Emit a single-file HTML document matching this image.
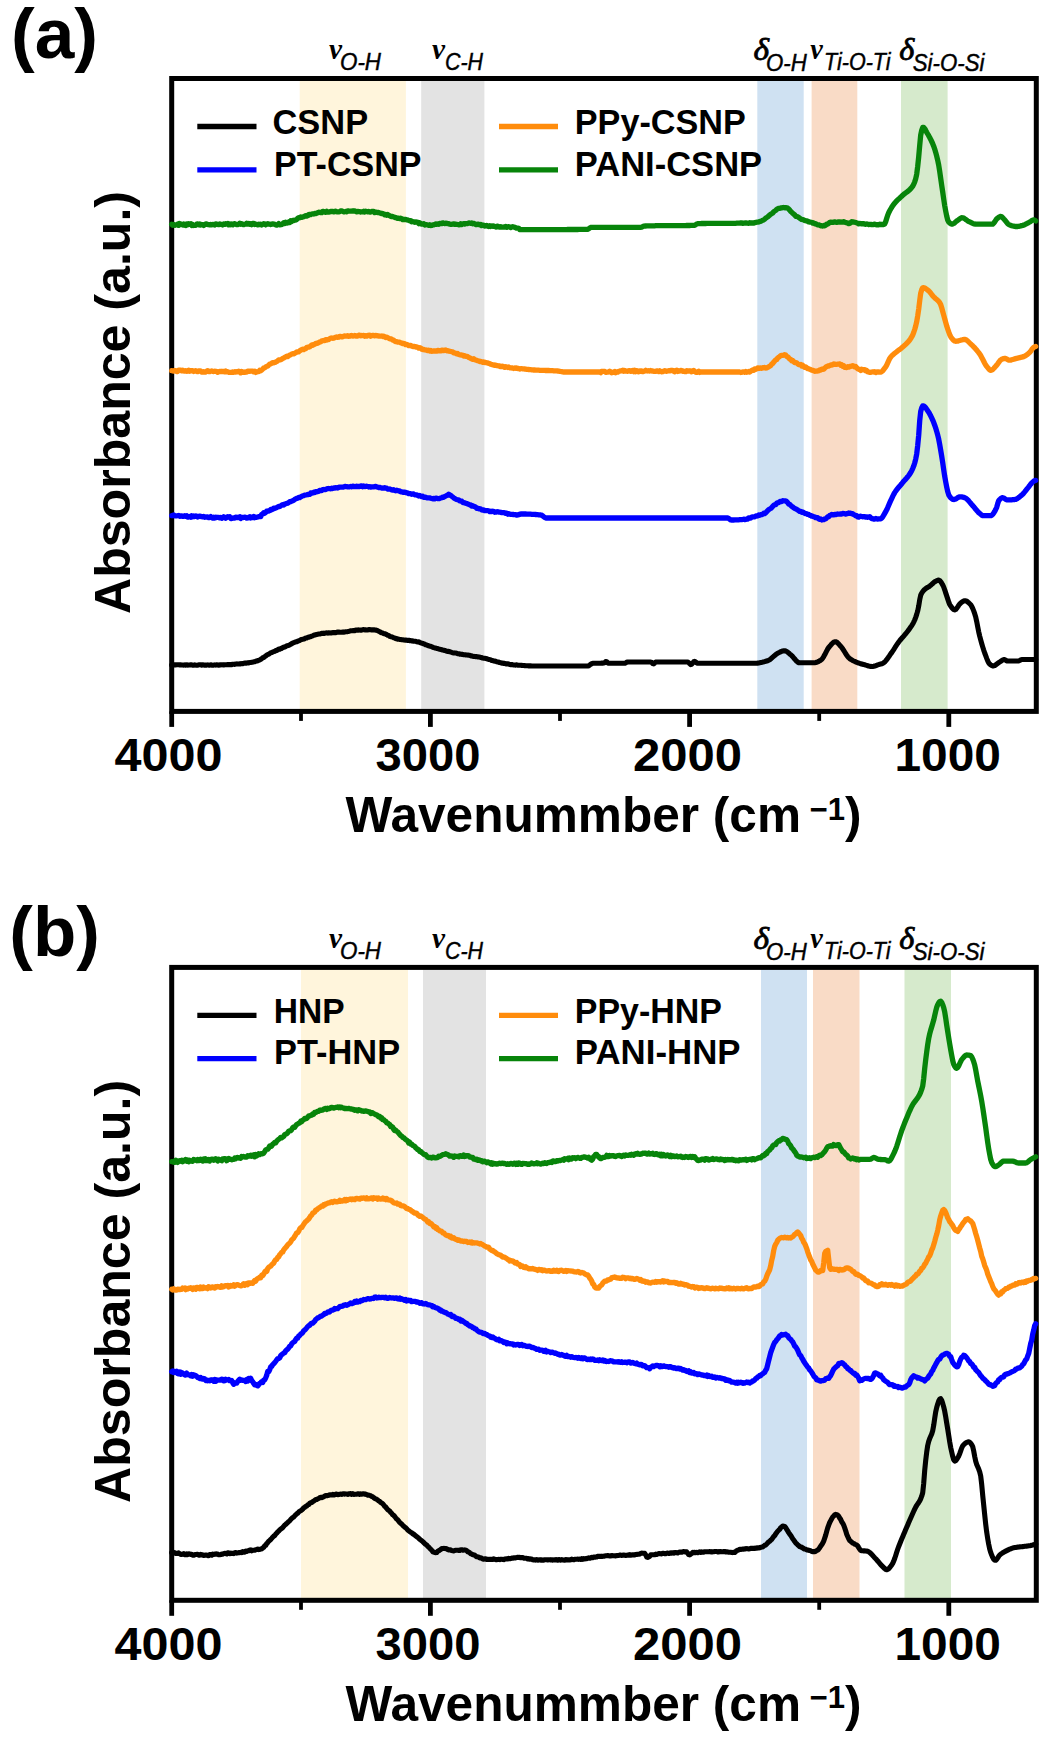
<!DOCTYPE html>
<html><head><meta charset="utf-8"><title>FTIR</title>
<style>
html,body{margin:0;padding:0;background:#fff;}
svg{display:block;font-family:"Liberation Sans",sans-serif;}
</style></head><body>
<svg width="1053" height="1740" viewBox="0 0 1053 1740">
<rect width="1053" height="1740" fill="#fff"/>
<g transform="translate(0,0)">
<rect x="299.7" y="78.5" width="106.2" height="632.9" fill="#FFF5DC"/>
<rect x="421.2" y="78.5" width="63.2" height="632.9" fill="#E3E3E3"/>
<rect x="757.3" y="78.5" width="46.4" height="632.9" fill="#CFE1F2"/>
<rect x="811.6" y="78.5" width="45.7" height="632.9" fill="#F9DBC6"/>
<rect x="901" y="78.5" width="46.6" height="632.9" fill="#D6EACC"/>
<rect x="171.7" y="78.5" width="864.6" height="632.9" fill="none" stroke="#000" stroke-width="5"/>
<polyline points="171.7,665.0 172.7,665.0 173.7,665.1 174.7,664.8 175.7,664.9 176.7,664.8 177.7,664.8 178.7,664.8 179.7,664.9 180.7,664.9 181.7,665.0 182.7,665.0 183.7,665.1 184.7,664.9 185.7,665.2 186.7,664.8 187.7,665.1 188.7,665.0 189.7,665.0 190.7,664.8 191.7,664.8 192.7,665.2 193.7,665.2 194.7,664.9 195.7,665.1 196.7,665.2 197.7,665.2 198.7,664.8 199.7,664.8 200.7,664.8 201.7,665.2 202.7,664.8 203.7,665.0 204.7,665.2 205.7,665.0 206.7,665.1 207.7,664.9 208.7,665.1 209.7,665.2 210.7,664.8 211.7,665.1 212.7,665.2 213.7,665.1 214.7,664.9 215.7,665.1 216.7,664.8 217.7,665.0 218.7,665.2 219.7,664.9 220.7,664.9 221.7,664.8 222.7,664.7 223.7,665.0 224.7,664.8 225.7,664.8 226.7,664.8 227.7,664.6 228.7,664.8 229.7,664.5 230.7,664.6 231.7,664.6 232.7,664.2 233.7,664.3 234.7,664.4 235.7,664.1 236.7,663.9 237.7,664.0 238.7,664.0 239.7,663.8 240.7,663.9 241.7,663.6 242.7,663.7 243.7,663.2 244.7,663.1 245.7,663.3 246.7,662.9 247.7,662.7 248.7,662.9 249.7,662.5 250.7,662.5 251.7,662.3 252.7,662.2 253.7,661.8 254.7,661.7 255.7,661.2 256.7,660.9 257.7,660.9 258.7,660.2 259.7,660.0 260.7,659.3 261.7,658.7 262.7,657.8 263.7,657.5 264.7,656.6 265.7,656.0 266.7,655.2 267.7,654.5 268.7,654.3 269.7,653.5 270.7,652.8 271.7,652.6 272.7,652.0 273.7,651.6 274.7,651.3 275.7,650.6 276.7,650.4 277.7,649.9 278.7,649.1 279.7,649.2 280.7,648.6 281.7,648.4 282.7,647.5 283.7,647.1 284.7,647.1 285.7,646.5 286.7,645.8 287.7,645.7 288.7,645.3 289.7,644.9 290.7,644.3 291.7,643.6 292.7,643.1 293.7,642.7 294.7,642.2 295.7,641.9 296.7,641.8 297.7,641.2 298.7,640.8 299.7,640.5 300.7,639.8 301.7,639.5 302.7,639.3 303.7,639.1 304.7,638.6 305.7,638.0 306.7,638.0 307.7,637.4 308.7,637.3 309.7,636.7 310.7,636.6 311.7,636.2 312.7,635.8 313.7,635.3 314.7,635.0 315.7,634.7 316.7,634.4 317.7,634.2 318.7,634.0 319.7,634.0 320.7,633.7 321.7,633.3 322.7,633.2 323.7,633.5 324.7,633.2 325.7,633.0 326.7,632.9 327.7,633.1 328.7,632.7 329.7,632.9 330.7,633.0 331.7,632.9 332.7,632.5 333.7,632.6 334.7,632.6 335.7,632.7 336.7,632.3 337.7,632.1 338.7,632.1 339.7,632.3 340.7,632.3 341.7,632.2 342.7,632.0 343.7,632.2 344.7,631.9 345.7,631.7 346.7,631.7 347.7,631.6 348.7,631.4 349.7,631.1 350.7,630.8 351.7,630.8 352.7,630.8 353.7,630.5 354.7,630.6 355.7,630.1 356.7,630.1 357.7,630.3 358.7,629.9 359.7,630.1 360.7,630.0 361.7,630.1 362.7,629.8 363.7,629.6 364.7,629.9 365.7,629.9 366.7,630.0 367.7,630.0 368.7,629.5 369.7,629.6 370.7,629.7 371.7,629.9 372.7,629.9 373.7,629.7 374.7,630.0 375.7,630.1 376.7,630.3 377.7,630.7 378.7,631.2 379.7,631.7 380.7,632.4 381.7,632.8 382.7,633.0 383.7,633.7 384.7,633.7 385.7,634.1 386.7,634.6 387.7,635.2 388.7,635.4 389.7,636.3 390.7,636.7 391.7,636.7 392.7,637.2 393.7,637.7 394.7,637.9 395.7,638.6 396.7,638.6 397.7,639.1 398.7,639.1 399.7,639.4 400.7,639.6 401.7,639.8 402.7,639.7 403.7,639.9 404.7,640.1 405.7,640.0 406.7,640.2 407.7,640.4 408.7,640.2 409.7,640.6 410.7,640.6 411.7,641.0 412.7,640.9 413.7,641.3 414.7,641.3 415.7,641.3 416.7,641.8 417.7,642.0 418.7,641.9 419.7,642.4 420.7,642.8 421.7,643.3 422.7,643.2 423.7,644.0 424.7,644.1 425.7,644.8 426.7,645.0 427.7,645.5 428.7,645.8 429.7,646.2 430.7,646.3 431.7,646.8 432.7,647.3 433.7,647.6 434.7,647.9 435.7,648.1 436.7,648.5 437.7,648.5 438.7,649.0 439.7,649.2 440.7,649.4 441.7,649.7 442.7,650.0 443.7,650.2 444.7,650.6 445.7,650.8 446.7,651.3 447.7,651.4 448.7,651.4 449.7,651.8 450.7,652.0 451.7,652.4 452.7,652.7 453.7,652.9 454.7,653.0 455.7,653.0 456.7,653.2 457.7,653.7 458.7,653.7 459.7,654.1 460.7,654.1 461.7,654.4 462.7,654.4 463.7,654.7 464.7,654.8 465.7,654.9 466.7,655.0 467.7,655.0 468.7,655.3 469.7,655.3 470.7,655.9 471.7,655.7 472.7,656.2 473.7,656.4 474.7,656.5 475.7,656.6 476.7,656.5 477.7,656.9 478.7,657.0 479.7,657.1 480.7,657.5 481.7,657.6 482.7,658.1 483.7,658.3 484.7,658.2 485.7,658.4 486.7,658.7 487.7,659.1 488.7,659.5 489.7,659.5 490.7,659.9 491.7,660.5 492.7,660.5 493.7,661.0 494.7,661.1 495.7,661.3 496.7,661.8 497.7,662.0 498.7,662.1 499.7,662.6 500.7,662.8 501.7,663.1 502.7,663.0 503.7,663.5 504.7,663.4 505.7,663.7 506.7,664.0 507.7,663.8 508.7,664.0 509.7,664.5 510.7,664.6 511.7,664.5 512.7,664.8 513.7,665.0 514.7,665.0 515.7,665.1 516.7,664.8 517.7,665.2 518.7,665.3 519.7,665.3 520.7,665.3 521.7,665.4 522.7,665.5 523.7,665.5 524.7,665.6 525.7,665.7 526.7,665.7 527.7,665.8 528.7,665.9 529.7,665.9 530.7,665.9 531.7,666.0 532.7,666.0 533.7,666.0 534.7,666.0 535.7,666.0 536.7,666.0 537.7,666.0 538.7,666.0 539.7,666.0 540.7,666.0 541.7,666.0 542.7,666.0 543.7,666.0 544.7,666.0 545.7,666.0 546.7,666.0 547.7,666.0 548.7,666.0 549.7,666.0 550.7,666.0 551.7,666.0 552.7,666.0 553.7,666.0 554.7,666.0 555.7,666.0 556.7,666.0 557.7,666.0 558.7,666.0 559.7,666.0 560.7,666.0 561.7,666.0 562.7,666.0 563.7,666.0 564.7,666.0 565.7,666.0 566.7,666.0 567.7,666.0 568.7,666.0 569.7,666.0 570.7,666.0 571.7,666.0 572.7,666.0 573.7,666.0 574.7,666.0 575.7,666.0 576.7,666.0 577.7,666.0 578.7,666.0 579.7,666.0 580.7,666.0 581.7,666.0 582.7,666.0 583.7,666.0 584.7,666.0 585.7,666.0 586.7,666.0 587.7,666.0 588.7,665.7 589.7,665.1 590.7,664.3 591.7,663.7 592.7,663.3 593.7,663.3 594.7,663.2 595.7,663.2 596.7,663.2 597.7,663.2 598.7,663.2 599.7,663.2 600.7,663.2 601.7,663.1 602.7,663.1 603.7,663.0 604.7,662.8 605.7,661.5 606.7,661.7 607.7,662.9 608.7,663.3 609.7,663.3 610.7,663.3 611.7,663.3 612.7,663.3 613.7,663.3 614.7,663.3 615.7,663.3 616.7,663.3 617.7,663.3 618.7,663.3 619.7,663.3 620.7,663.3 621.7,663.3 622.7,663.3 623.7,663.3 624.7,663.3 625.7,662.9 626.7,662.3 627.7,662.0 628.7,662.0 629.7,662.0 630.7,662.0 631.7,662.0 632.7,662.0 633.7,662.0 634.7,662.0 635.7,662.0 636.7,662.0 637.7,662.0 638.7,662.0 639.7,662.0 640.7,662.0 641.7,662.0 642.7,662.0 643.7,662.0 644.7,662.0 645.7,662.0 646.7,662.0 647.7,662.0 648.7,662.0 649.7,662.0 650.7,662.0 651.7,662.4 652.7,663.6 653.7,663.9 654.7,663.0 655.7,662.1 656.7,662.0 657.7,662.0 658.7,662.0 659.7,662.0 660.7,662.0 661.7,662.0 662.7,662.0 663.7,662.0 664.7,662.0 665.7,662.0 666.7,662.0 667.7,662.0 668.7,662.0 669.7,662.0 670.7,662.0 671.7,662.0 672.7,662.0 673.7,662.0 674.7,662.0 675.7,662.0 676.7,662.0 677.7,662.0 678.7,662.0 679.7,662.0 680.7,662.0 681.7,662.0 682.7,662.0 683.7,662.0 684.7,662.0 685.7,662.0 686.7,662.0 687.7,662.0 688.7,662.6 689.7,663.7 690.7,664.6 691.7,664.3 692.7,663.0 693.7,661.7 694.7,661.4 695.7,662.0 696.7,662.9 697.7,663.3 698.7,663.3 699.7,663.3 700.7,663.3 701.7,663.3 702.7,663.3 703.7,663.3 704.7,663.3 705.7,663.3 706.7,663.3 707.7,663.3 708.7,663.3 709.7,663.3 710.7,663.3 711.7,663.3 712.7,663.3 713.7,663.3 714.7,663.3 715.7,663.3 716.7,663.3 717.7,663.3 718.7,663.3 719.7,663.3 720.7,663.3 721.7,663.3 722.7,663.3 723.7,663.3 724.7,663.3 725.7,663.3 726.7,663.3 727.7,663.3 728.7,663.3 729.7,663.3 730.7,663.3 731.7,663.3 732.7,663.3 733.7,663.3 734.7,663.3 735.7,663.3 736.7,663.3 737.7,663.3 738.7,663.3 739.7,663.3 740.7,663.3 741.7,663.3 742.7,663.3 743.7,663.3 744.7,663.3 745.7,663.3 746.7,663.3 747.7,663.3 748.7,663.3 749.7,663.3 750.7,663.3 751.7,663.3 752.7,663.3 753.7,663.3 754.7,663.3 755.7,663.3 756.7,663.2 757.7,663.1 758.7,663.0 759.7,662.8 760.7,662.6 761.7,662.4 762.7,662.1 763.7,661.9 764.7,661.6 765.7,661.3 766.7,661.0 767.7,660.7 768.7,660.2 769.7,659.7 770.7,658.9 771.7,658.1 772.7,657.2 773.7,656.3 774.7,655.5 775.7,654.6 776.7,653.9 777.7,653.3 778.7,652.8 779.7,652.3 780.7,651.7 781.7,651.3 782.7,650.9 783.7,650.7 784.7,650.7 785.7,651.0 786.7,651.5 787.7,652.2 788.7,653.0 789.7,653.9 790.7,654.7 791.7,655.6 792.7,656.6 793.7,657.8 794.7,659.0 795.7,660.2 796.7,661.3 797.7,662.1 798.7,662.6 799.7,662.7 800.7,662.7 801.7,662.7 802.7,662.7 803.7,662.7 804.7,662.7 805.7,662.7 806.7,662.7 807.7,662.7 808.7,662.7 809.7,662.7 810.7,662.7 811.7,662.7 812.7,662.7 813.7,662.7 814.7,662.7 815.7,662.5 816.7,662.2 817.7,661.9 818.7,661.4 819.7,660.8 820.7,660.2 821.7,659.5 822.7,658.2 823.7,656.6 824.7,654.8 825.7,652.8 826.7,650.9 827.7,649.0 828.7,647.5 829.7,646.3 830.7,645.2 831.7,644.0 832.7,643.0 833.7,642.2 834.7,641.8 835.7,641.7 836.7,642.1 837.7,642.9 838.7,644.0 839.7,645.1 840.7,646.3 841.7,647.4 842.7,648.8 843.7,650.4 844.7,652.0 845.7,653.6 846.7,655.2 847.7,656.6 848.7,657.7 849.7,658.6 850.7,659.3 851.7,659.9 852.7,660.5 853.7,661.0 854.7,661.4 855.7,661.9 856.7,662.3 857.7,662.7 858.7,663.0 859.7,663.4 860.7,663.7 861.7,664.0 862.7,664.3 863.7,664.6 864.7,664.8 865.7,665.1 866.7,665.4 867.7,665.7 868.7,666.0 869.7,666.2 870.7,666.4 871.7,666.5 872.7,666.5 873.7,666.3 874.7,666.0 875.7,665.7 876.7,665.3 877.7,664.9 878.7,664.6 879.7,664.3 880.7,664.1 881.7,663.8 882.7,663.4 883.7,662.8 884.7,662.0 885.7,660.9 886.7,659.7 887.7,658.3 888.7,656.8 889.7,655.4 890.7,653.9 891.7,652.6 892.7,651.1 893.7,649.6 894.7,648.0 895.7,646.4 896.7,644.9 897.7,643.4 898.7,642.0 899.7,640.7 900.7,639.5 901.7,638.3 902.7,637.2 903.7,636.1 904.7,634.9 905.7,633.8 906.7,632.5 907.7,631.2 908.7,629.9 909.7,628.5 910.7,627.1 911.7,625.6 912.7,624.0 913.7,622.1 914.7,620.0 915.7,617.4 916.7,614.4 917.7,610.9 918.7,606.1 919.7,599.8 920.7,595.2 921.7,593.1 922.7,591.6 923.7,590.4 924.7,589.4 925.7,588.6 926.7,587.9 927.7,587.4 928.7,586.8 929.7,586.1 930.7,585.3 931.7,584.4 932.7,583.5 933.7,582.6 934.7,581.8 935.7,581.2 936.7,580.7 937.7,580.3 938.7,580.1 939.7,580.5 940.7,581.6 941.7,583.2 942.7,584.9 943.7,587.0 944.7,589.8 945.7,592.9 946.7,595.8 947.7,598.9 948.7,602.0 949.7,604.5 950.7,606.1 951.7,607.5 952.7,608.7 953.7,609.6 954.7,609.9 955.7,609.5 956.7,608.4 957.7,606.9 958.7,605.3 959.7,604.0 960.7,603.1 961.7,602.3 962.7,601.5 963.7,601.0 964.7,600.7 965.7,600.8 966.7,601.2 967.7,601.9 968.7,602.7 969.7,603.7 970.7,604.7 971.7,606.3 972.7,608.4 973.7,610.9 974.7,613.7 975.7,617.0 976.7,621.6 977.7,626.8 978.7,631.8 979.7,636.1 980.7,639.9 981.7,643.5 982.7,646.9 983.7,650.1 984.7,653.0 985.7,655.7 986.7,658.4 987.7,660.9 988.7,662.9 989.7,664.1 990.7,664.9 991.7,665.5 992.7,665.9 993.7,665.9 994.7,665.6 995.7,664.9 996.7,664.1 997.7,663.4 998.7,662.7 999.7,662.0 1000.7,661.3 1001.7,660.6 1002.7,660.0 1003.7,659.6 1004.7,659.6 1005.7,660.2 1006.7,660.9 1007.7,661.0 1008.7,661.0 1009.7,661.0 1010.7,661.0 1011.7,661.0 1012.7,661.0 1013.7,661.0 1014.7,661.0 1015.7,661.0 1016.7,661.0 1017.7,661.0 1018.7,660.9 1019.7,660.5 1020.7,659.9 1021.7,659.5 1022.7,659.5 1023.7,659.5 1024.7,659.5 1025.7,659.5 1026.7,659.5 1027.7,659.5 1028.7,659.5 1029.7,659.5 1030.7,659.5 1031.7,659.5 1032.7,659.5 1033.7,659.5 1034.7,659.5 1035.7,659.5" fill="none" stroke="#000" stroke-width="5.1" stroke-linejoin="round" stroke-linecap="round"/>
<polyline points="171.7,515.7 172.7,515.6 173.7,514.9 174.7,515.9 175.7,515.8 176.7,515.8 177.7,515.7 178.7,515.5 179.7,516.3 180.7,515.8 181.7,515.8 182.7,516.4 183.7,516.3 184.7,515.7 185.7,516.4 186.7,515.8 187.7,517.0 188.7,517.1 189.7,516.5 190.7,517.2 191.7,515.9 192.7,516.7 193.7,515.9 194.7,516.6 195.7,516.0 196.7,516.1 197.7,517.0 198.7,516.4 199.7,516.2 200.7,516.4 201.7,516.7 202.7,516.9 203.7,516.5 204.7,517.3 205.7,517.0 206.7,517.1 207.7,516.9 208.7,517.7 209.7,517.3 210.7,516.6 211.7,517.6 212.7,518.1 213.7,517.3 214.7,518.0 215.7,517.1 216.7,517.5 217.7,517.3 218.7,517.3 219.7,517.9 220.7,517.5 221.7,518.3 222.7,517.6 223.7,516.8 224.7,517.3 225.7,518.2 226.7,517.4 227.7,516.7 228.7,517.2 229.7,516.8 230.7,518.5 231.7,518.5 232.7,518.2 233.7,517.8 234.7,518.1 235.7,517.1 236.7,517.3 237.7,517.7 238.7,517.4 239.7,516.8 240.7,518.5 241.7,517.5 242.7,517.6 243.7,517.3 244.7,517.2 245.7,517.4 246.7,518.2 247.7,518.0 248.7,517.3 249.7,516.7 250.7,518.0 251.7,517.1 252.7,517.6 253.7,516.6 254.7,517.7 255.7,517.2 256.7,517.3 257.7,517.0 258.7,516.6 259.7,516.5 260.7,516.6 261.7,514.4 262.7,514.0 263.7,512.8 264.7,513.3 265.7,512.5 266.7,511.2 267.7,511.0 268.7,511.0 269.7,510.6 270.7,509.5 271.7,509.8 272.7,509.2 273.7,508.2 274.7,508.5 275.7,508.0 276.7,507.6 277.7,507.0 278.7,506.3 279.7,506.6 280.7,505.9 281.7,505.2 282.7,504.7 283.7,505.0 284.7,504.1 285.7,503.8 286.7,503.4 287.7,503.2 288.7,502.6 289.7,501.7 290.7,501.6 291.7,501.1 292.7,500.7 293.7,500.3 294.7,499.4 295.7,498.9 296.7,498.4 297.7,498.1 298.7,497.4 299.7,497.6 300.7,496.8 301.7,496.3 302.7,495.8 303.7,495.7 304.7,495.2 305.7,495.0 306.7,494.8 307.7,494.5 308.7,494.5 309.7,494.3 310.7,493.0 311.7,492.9 312.7,493.0 313.7,492.2 314.7,492.6 315.7,491.6 316.7,491.9 317.7,491.5 318.7,491.4 319.7,490.4 320.7,490.3 321.7,490.6 322.7,489.7 323.7,489.5 324.7,489.6 325.7,489.6 326.7,488.9 327.7,488.7 328.7,488.5 329.7,488.7 330.7,488.8 331.7,488.1 332.7,488.6 333.7,488.0 334.7,488.1 335.7,487.6 336.7,487.8 337.7,488.0 338.7,487.4 339.7,487.1 340.7,487.2 341.7,487.1 342.7,487.1 343.7,487.0 344.7,486.5 345.7,486.5 346.7,486.7 347.7,486.9 348.7,486.9 349.7,486.8 350.7,486.5 351.7,486.9 352.7,486.2 353.7,486.4 354.7,486.6 355.7,486.7 356.7,486.2 357.7,486.7 358.7,486.3 359.7,486.6 360.7,485.9 361.7,485.9 362.7,486.8 363.7,486.0 364.7,486.6 365.7,486.3 366.7,486.2 367.7,486.5 368.7,487.0 369.7,486.7 370.7,487.1 371.7,486.9 372.7,486.8 373.7,486.8 374.7,486.6 375.7,486.4 376.7,486.9 377.7,487.1 378.7,487.5 379.7,487.4 380.7,487.7 381.7,488.0 382.7,488.1 383.7,488.2 384.7,487.7 385.7,488.1 386.7,488.2 387.7,489.1 388.7,489.2 389.7,489.0 390.7,489.4 391.7,489.9 392.7,490.1 393.7,489.7 394.7,490.5 395.7,490.8 396.7,490.2 397.7,490.5 398.7,491.0 399.7,491.0 400.7,491.9 401.7,491.9 402.7,492.1 403.7,492.4 404.7,492.2 405.7,492.3 406.7,492.9 407.7,492.9 408.7,493.7 409.7,493.6 410.7,493.6 411.7,494.3 412.7,494.0 413.7,494.0 414.7,494.8 415.7,494.8 416.7,494.8 417.7,495.4 418.7,496.0 419.7,495.5 420.7,496.3 421.7,496.6 422.7,496.2 423.7,497.3 424.7,497.2 425.7,497.1 426.7,497.8 427.7,497.8 428.7,497.8 429.7,497.9 430.7,498.2 431.7,498.5 432.7,498.8 433.7,498.3 434.7,498.9 435.7,498.2 436.7,498.2 437.7,498.6 438.7,498.6 439.7,498.5 440.7,498.0 441.7,497.7 442.7,497.1 443.7,497.3 444.7,496.5 445.7,496.1 446.7,495.5 447.7,495.2 448.7,494.2 449.7,494.9 450.7,495.4 451.7,496.2 452.7,497.0 453.7,497.8 454.7,498.5 455.7,499.1 456.7,499.5 457.7,499.8 458.7,499.8 459.7,500.8 460.7,501.0 461.7,501.2 462.7,502.4 463.7,502.7 464.7,502.9 465.7,503.2 466.7,503.6 467.7,503.8 468.7,504.4 469.7,504.8 470.7,504.8 471.7,506.1 472.7,505.7 473.7,506.4 474.7,506.6 475.7,507.1 476.7,508.3 477.7,508.1 478.7,508.8 479.7,508.6 480.7,509.0 481.7,510.0 482.7,510.2 483.7,509.9 484.7,510.7 485.7,510.6 486.7,510.7 487.7,510.7 488.7,510.8 489.7,511.6 490.7,511.5 491.7,511.5 492.7,511.1 493.7,511.5 494.7,512.3 495.7,512.0 496.7,512.0 497.7,511.7 498.7,512.1 499.7,512.2 500.7,512.3 501.7,512.6 502.7,512.6 503.7,512.6 504.7,512.8 505.7,513.4 506.7,513.2 507.7,514.2 508.7,513.7 509.7,514.2 510.7,514.3 511.7,514.3 512.7,514.5 513.7,514.5 514.7,514.7 515.7,514.6 516.7,515.2 517.7,515.0 518.7,514.4 519.7,514.6 520.7,514.0 521.7,514.0 522.7,514.0 523.7,514.0 524.7,514.0 525.7,514.0 526.7,514.1 527.7,514.1 528.7,514.1 529.7,514.2 530.7,514.2 531.7,514.3 532.7,514.3 533.7,514.4 534.7,514.4 535.7,514.5 536.7,514.6 537.7,514.7 538.7,514.8 539.7,514.9 540.7,515.0 541.7,515.2 542.7,515.9 543.7,516.7 544.7,517.5 545.7,518.0 546.7,518.0 547.7,518.0 548.7,518.0 549.7,518.0 550.7,518.0 551.7,518.0 552.7,518.0 553.7,518.0 554.7,518.0 555.7,518.0 556.7,518.0 557.7,518.0 558.7,518.0 559.7,518.0 560.7,518.0 561.7,518.0 562.7,518.0 563.7,518.0 564.7,518.0 565.7,518.0 566.7,518.0 567.7,518.0 568.7,518.0 569.7,518.0 570.7,518.0 571.7,518.0 572.7,518.0 573.7,518.0 574.7,518.0 575.7,518.0 576.7,518.0 577.7,518.0 578.7,518.0 579.7,518.0 580.7,518.0 581.7,518.0 582.7,518.0 583.7,518.0 584.7,518.0 585.7,518.0 586.7,518.0 587.7,518.0 588.7,518.0 589.7,518.0 590.7,518.0 591.7,518.0 592.7,518.0 593.7,518.0 594.7,518.0 595.7,518.0 596.7,518.0 597.7,518.0 598.7,518.0 599.7,518.0 600.7,518.0 601.7,518.0 602.7,518.0 603.7,518.0 604.7,518.0 605.7,518.0 606.7,518.0 607.7,518.0 608.7,518.0 609.7,518.0 610.7,518.0 611.7,518.0 612.7,518.0 613.7,518.0 614.7,518.0 615.7,518.0 616.7,518.0 617.7,518.0 618.7,518.0 619.7,518.0 620.7,518.0 621.7,518.0 622.7,518.0 623.7,518.0 624.7,518.0 625.7,518.0 626.7,518.0 627.7,518.0 628.7,518.0 629.7,518.0 630.7,518.0 631.7,518.0 632.7,518.0 633.7,518.0 634.7,518.0 635.7,518.0 636.7,518.0 637.7,518.0 638.7,518.0 639.7,518.0 640.7,518.0 641.7,518.0 642.7,518.0 643.7,518.0 644.7,518.0 645.7,518.0 646.7,518.0 647.7,518.0 648.7,518.0 649.7,518.0 650.7,518.0 651.7,518.0 652.7,518.0 653.7,518.0 654.7,518.0 655.7,518.0 656.7,518.0 657.7,518.0 658.7,518.0 659.7,518.0 660.7,518.0 661.7,518.0 662.7,518.0 663.7,518.0 664.7,518.0 665.7,518.0 666.7,518.0 667.7,518.0 668.7,518.0 669.7,518.0 670.7,518.0 671.7,518.0 672.7,518.0 673.7,518.0 674.7,518.0 675.7,518.0 676.7,518.0 677.7,518.0 678.7,518.0 679.7,518.0 680.7,518.0 681.7,518.0 682.7,518.0 683.7,518.0 684.7,518.0 685.7,518.0 686.7,518.0 687.7,518.0 688.7,518.0 689.7,518.0 690.7,518.0 691.7,518.0 692.7,518.0 693.7,518.0 694.7,518.0 695.7,518.0 696.7,518.0 697.7,518.0 698.7,518.0 699.7,518.0 700.7,518.0 701.7,518.0 702.7,518.0 703.7,518.0 704.7,518.0 705.7,518.0 706.7,518.0 707.7,518.0 708.7,518.0 709.7,518.0 710.7,518.0 711.7,518.0 712.7,518.0 713.7,518.0 714.7,518.0 715.7,518.0 716.7,518.0 717.7,518.0 718.7,518.0 719.7,518.0 720.7,518.0 721.7,518.0 722.7,518.0 723.7,518.0 724.7,518.0 725.7,518.0 726.7,518.0 727.7,518.0 728.7,518.4 729.7,519.3 730.7,519.9 731.7,520.0 732.7,520.0 733.7,520.0 734.7,519.9 735.7,519.9 736.7,519.9 737.7,519.8 738.7,519.8 739.7,519.7 740.7,519.6 741.7,519.7 742.7,519.5 743.7,519.2 744.7,519.6 745.7,519.3 746.7,519.1 747.7,519.0 748.7,517.8 749.7,518.0 750.7,518.1 751.7,517.1 752.7,516.9 753.7,516.9 754.7,516.8 755.7,516.1 756.7,515.8 757.7,516.0 758.7,515.0 759.7,515.4 760.7,514.7 761.7,514.6 762.7,514.3 763.7,513.2 764.7,513.6 765.7,512.9 766.7,511.7 767.7,510.7 768.7,509.7 769.7,509.0 770.7,508.5 771.7,507.6 772.7,506.3 773.7,505.3 774.7,504.7 775.7,504.6 776.7,503.2 777.7,502.8 778.7,502.7 779.7,501.7 780.7,501.3 781.7,501.5 782.7,500.7 783.7,500.8 784.7,500.8 785.7,500.8 786.7,501.6 787.7,502.6 788.7,504.2 789.7,504.4 790.7,505.4 791.7,506.3 792.7,506.8 793.7,507.8 794.7,508.4 795.7,508.9 796.7,509.3 797.7,510.0 798.7,510.8 799.7,511.4 800.7,511.5 801.7,512.3 802.7,511.9 803.7,512.5 804.7,513.5 805.7,513.5 806.7,513.8 807.7,514.4 808.7,514.5 809.7,515.4 810.7,515.3 811.7,516.1 812.7,516.2 813.7,516.8 814.7,516.8 815.7,517.7 816.7,517.8 817.7,517.7 818.7,518.9 819.7,519.4 820.7,519.0 821.7,520.0 822.7,519.7 823.7,519.7 824.7,518.8 825.7,518.8 826.7,517.8 827.7,516.9 828.7,516.6 829.7,515.5 830.7,515.1 831.7,514.4 832.7,514.8 833.7,514.9 834.7,514.4 835.7,514.6 836.7,514.4 837.7,514.0 838.7,514.2 839.7,514.1 840.7,513.9 841.7,514.1 842.7,513.4 843.7,513.6 844.7,513.6 845.7,514.1 846.7,513.7 847.7,513.6 848.7,513.0 849.7,513.3 850.7,513.2 851.7,513.8 852.7,513.7 853.7,514.6 854.7,515.0 855.7,515.9 856.7,515.6 857.7,516.9 858.7,517.1 859.7,516.3 860.7,516.2 861.7,516.5 862.7,516.8 863.7,516.7 864.7,516.6 865.7,517.2 866.7,516.9 867.7,517.3 868.7,517.0 869.7,516.7 870.7,517.7 871.7,518.6 872.7,518.7 873.7,519.1 874.7,519.0 875.7,518.5 876.7,518.9 877.7,519.0 878.7,518.9 879.7,518.9 880.7,518.8 881.7,518.1 882.7,516.8 883.7,515.2 884.7,513.4 885.7,511.6 886.7,509.8 887.7,507.6 888.7,505.2 889.7,502.9 890.7,500.7 891.7,498.6 892.7,496.4 893.7,494.4 894.7,492.6 895.7,491.1 896.7,489.7 897.7,488.5 898.7,487.3 899.7,486.1 900.7,485.0 901.7,483.8 902.7,482.5 903.7,481.3 904.7,480.2 905.7,479.1 906.7,478.0 907.7,476.8 908.7,475.5 909.7,474.1 910.7,472.5 911.7,470.7 912.7,468.6 913.7,466.1 914.7,463.0 915.7,459.1 916.7,453.9 917.7,445.6 918.7,435.3 919.7,420.8 920.7,411.5 921.7,407.9 922.7,405.9 923.7,405.9 924.7,406.6 925.7,407.8 926.7,409.2 927.7,410.7 928.7,412.2 929.7,413.9 930.7,415.8 931.7,417.9 932.7,420.1 933.7,422.6 934.7,425.2 935.7,428.1 936.7,431.4 937.7,435.0 938.7,439.2 939.7,444.4 940.7,450.2 941.7,456.2 942.7,462.6 943.7,469.6 944.7,476.3 945.7,481.9 946.7,486.9 947.7,491.5 948.7,494.8 949.7,496.5 950.7,497.7 951.7,498.6 952.7,499.3 953.7,499.5 954.7,499.4 955.7,499.0 956.7,498.4 957.7,497.7 958.7,497.2 959.7,496.8 960.7,496.8 961.7,496.9 962.7,497.1 963.7,497.3 964.7,497.7 965.7,498.1 966.7,498.8 967.7,499.8 968.7,500.9 969.7,502.1 970.7,503.3 971.7,504.5 972.7,505.6 973.7,506.7 974.7,508.0 975.7,509.2 976.7,510.4 977.7,511.5 978.7,512.6 979.7,513.4 980.7,514.3 981.7,515.1 982.7,515.6 983.7,515.7 984.7,515.7 985.7,515.7 986.7,515.7 987.7,515.7 988.7,515.7 989.7,515.7 990.7,515.7 991.7,515.3 992.7,514.4 993.7,513.0 994.7,511.4 995.7,509.5 996.7,507.3 997.7,503.7 998.7,500.7 999.7,499.5 1000.7,498.5 1001.7,497.9 1002.7,497.7 1003.7,498.0 1004.7,498.7 1005.7,499.4 1006.7,499.8 1007.7,499.9 1008.7,499.9 1009.7,499.9 1010.7,499.8 1011.7,499.8 1012.7,499.7 1013.7,499.6 1014.7,499.5 1015.7,499.3 1016.7,498.8 1017.7,498.3 1018.7,497.5 1019.7,496.8 1020.7,495.9 1021.7,495.1 1022.7,494.2 1023.7,493.1 1024.7,491.9 1025.7,490.6 1026.7,489.3 1027.7,488.1 1028.7,486.9 1029.7,485.5 1030.7,484.2 1031.7,483.0 1032.7,482.0 1033.7,481.2 1034.7,480.7 1035.7,480.4" fill="none" stroke="#0000FF" stroke-width="5.3" stroke-linejoin="round" stroke-linecap="round"/>
<polyline points="171.7,370.7 172.7,370.8 173.7,371.1 174.7,370.4 175.7,370.8 176.7,371.5 177.7,371.5 178.7,370.1 179.7,370.3 180.7,370.1 181.7,370.8 182.7,370.1 183.7,370.8 184.7,371.2 185.7,370.6 186.7,371.3 187.7,371.2 188.7,370.2 189.7,371.2 190.7,370.6 191.7,370.9 192.7,370.7 193.7,371.5 194.7,371.0 195.7,370.6 196.7,371.3 197.7,371.7 198.7,370.9 199.7,370.8 200.7,371.1 201.7,372.1 202.7,372.2 203.7,371.7 204.7,372.1 205.7,372.0 206.7,371.2 207.7,370.7 208.7,371.7 209.7,371.6 210.7,371.3 211.7,371.0 212.7,371.4 213.7,371.5 214.7,371.2 215.7,371.3 216.7,371.6 217.7,372.3 218.7,371.9 219.7,371.4 220.7,371.4 221.7,371.7 222.7,371.3 223.7,371.3 224.7,371.9 225.7,371.1 226.7,371.9 227.7,371.7 228.7,372.3 229.7,372.4 230.7,372.3 231.7,372.3 232.7,371.8 233.7,372.3 234.7,371.7 235.7,372.1 236.7,371.7 237.7,371.9 238.7,371.2 239.7,371.5 240.7,372.8 241.7,371.5 242.7,372.3 243.7,372.2 244.7,372.4 245.7,371.9 246.7,372.1 247.7,371.1 248.7,371.1 249.7,371.3 250.7,371.2 251.7,371.1 252.7,371.1 253.7,371.9 254.7,371.2 255.7,372.5 256.7,372.0 257.7,371.6 258.7,371.6 259.7,370.3 260.7,370.9 261.7,370.0 262.7,369.1 263.7,367.9 264.7,367.9 265.7,367.0 266.7,366.3 267.7,366.2 268.7,365.2 269.7,364.2 270.7,364.0 271.7,363.2 272.7,362.7 273.7,362.8 274.7,362.4 275.7,362.1 276.7,361.5 277.7,360.8 278.7,359.9 279.7,359.8 280.7,359.8 281.7,359.2 282.7,358.4 283.7,358.0 284.7,357.3 285.7,356.8 286.7,356.2 287.7,356.6 288.7,355.9 289.7,355.0 290.7,354.8 291.7,354.0 292.7,353.7 293.7,353.8 294.7,353.3 295.7,352.7 296.7,352.0 297.7,352.0 298.7,351.8 299.7,350.9 300.7,350.1 301.7,349.6 302.7,349.2 303.7,349.6 304.7,348.8 305.7,348.6 306.7,347.5 307.7,347.1 308.7,347.1 309.7,346.8 310.7,345.8 311.7,345.0 312.7,345.3 313.7,344.3 314.7,344.3 315.7,343.3 316.7,343.4 317.7,343.1 318.7,342.6 319.7,341.8 320.7,341.8 321.7,340.8 322.7,340.7 323.7,340.5 324.7,340.6 325.7,339.6 326.7,340.0 327.7,339.6 328.7,339.5 329.7,338.6 330.7,338.2 331.7,338.0 332.7,338.3 333.7,338.2 334.7,337.7 335.7,337.3 336.7,336.9 337.7,337.3 338.7,337.2 339.7,336.3 340.7,336.3 341.7,336.8 342.7,336.8 343.7,336.1 344.7,336.0 345.7,336.1 346.7,336.1 347.7,335.6 348.7,336.3 349.7,335.9 350.7,336.1 351.7,335.5 352.7,336.2 353.7,336.0 354.7,335.5 355.7,336.1 356.7,335.9 357.7,336.0 358.7,335.2 359.7,335.2 360.7,335.9 361.7,335.5 362.7,335.7 363.7,335.4 364.7,336.2 365.7,335.7 366.7,336.1 367.7,335.3 368.7,335.7 369.7,335.3 370.7,336.2 371.7,335.7 372.7,335.4 373.7,335.4 374.7,335.9 375.7,335.5 376.7,335.6 377.7,335.9 378.7,336.0 379.7,336.1 380.7,336.2 381.7,336.0 382.7,336.5 383.7,336.2 384.7,336.6 385.7,337.5 386.7,337.2 387.7,337.7 388.7,338.1 389.7,338.8 390.7,338.8 391.7,339.2 392.7,340.1 393.7,340.2 394.7,341.1 395.7,341.6 396.7,341.7 397.7,342.2 398.7,342.2 399.7,342.1 400.7,342.8 401.7,343.1 402.7,343.6 403.7,343.4 404.7,343.8 405.7,344.7 406.7,344.4 407.7,344.9 408.7,345.7 409.7,345.3 410.7,345.4 411.7,346.2 412.7,346.4 413.7,346.7 414.7,346.4 415.7,347.0 416.7,346.8 417.7,347.3 418.7,348.1 419.7,347.7 420.7,348.2 421.7,349.2 422.7,349.5 423.7,349.3 424.7,349.8 425.7,350.0 426.7,350.1 427.7,350.7 428.7,350.2 429.7,351.0 430.7,350.4 431.7,351.3 432.7,351.2 433.7,350.9 434.7,351.1 435.7,350.9 436.7,351.1 437.7,350.3 438.7,350.6 439.7,350.9 440.7,350.9 441.7,350.1 442.7,350.1 443.7,350.7 444.7,350.2 445.7,350.0 446.7,350.8 447.7,350.7 448.7,351.2 449.7,351.2 450.7,351.5 451.7,351.7 452.7,351.8 453.7,352.8 454.7,352.9 455.7,353.3 456.7,353.8 457.7,353.5 458.7,354.5 459.7,354.8 460.7,354.8 461.7,355.2 462.7,355.1 463.7,356.0 464.7,355.7 465.7,356.4 466.7,356.4 467.7,356.6 468.7,357.5 469.7,357.8 470.7,358.3 471.7,358.8 472.7,359.3 473.7,358.8 474.7,359.7 475.7,360.0 476.7,360.4 477.7,360.7 478.7,361.0 479.7,361.6 480.7,361.5 481.7,361.9 482.7,362.3 483.7,362.0 484.7,362.6 485.7,362.5 486.7,362.8 487.7,362.9 488.7,363.4 489.7,363.6 490.7,364.2 491.7,364.5 492.7,364.9 493.7,364.8 494.7,365.4 495.7,365.2 496.7,365.7 497.7,365.7 498.7,366.0 499.7,365.8 500.7,366.7 501.7,366.7 502.7,366.2 503.7,366.8 504.7,367.4 505.7,366.6 506.7,367.0 507.7,367.5 508.7,367.0 509.7,367.8 510.7,367.8 511.7,368.0 512.7,368.0 513.7,368.5 514.7,368.0 515.7,368.3 516.7,367.9 517.7,368.5 518.7,368.4 519.7,369.0 520.7,368.6 521.7,368.7 522.7,368.8 523.7,368.9 524.7,369.0 525.7,369.1 526.7,369.3 527.7,369.4 528.7,369.5 529.7,369.6 530.7,369.7 531.7,369.8 532.7,369.9 533.7,370.0 534.7,370.0 535.7,370.1 536.7,370.1 537.7,370.2 538.7,370.2 539.7,370.3 540.7,370.3 541.7,370.3 542.7,370.4 543.7,370.4 544.7,370.4 545.7,370.5 546.7,370.5 547.7,370.5 548.7,370.5 549.7,370.6 550.7,370.6 551.7,370.7 552.7,370.7 553.7,370.8 554.7,370.8 555.7,370.9 556.7,370.9 557.7,371.0 558.7,371.1 559.7,371.3 560.7,371.5 561.7,371.7 562.7,371.9 563.7,372.0 564.7,372.0 565.7,372.0 566.7,372.0 567.7,372.0 568.7,372.0 569.7,372.0 570.7,372.0 571.7,372.0 572.7,372.0 573.7,372.0 574.7,372.0 575.7,372.0 576.7,372.0 577.7,372.0 578.7,372.0 579.7,372.0 580.7,372.0 581.7,372.0 582.7,372.0 583.7,372.0 584.7,372.0 585.7,372.0 586.7,372.0 587.7,372.0 588.7,372.0 589.7,372.0 590.7,372.0 591.7,372.0 592.7,372.0 593.7,372.0 594.7,372.0 595.7,372.0 596.7,372.0 597.7,372.0 598.7,372.0 599.7,372.0 600.7,372.7 601.7,371.4 602.7,371.3 603.7,371.4 604.7,371.5 605.7,372.4 606.7,372.1 607.7,372.1 608.7,371.9 609.7,371.2 610.7,371.8 611.7,372.8 612.7,372.5 613.7,372.1 614.7,371.5 615.7,372.7 616.7,371.9 617.7,372.2 618.7,371.3 619.7,371.1 620.7,370.8 621.7,370.8 622.7,370.2 623.7,371.3 624.7,370.5 625.7,371.2 626.7,371.2 627.7,371.3 628.7,370.7 629.7,370.7 630.7,371.4 631.7,370.8 632.7,370.4 633.7,371.6 634.7,370.2 635.7,371.6 636.7,370.7 637.7,370.8 638.7,371.8 639.7,370.9 640.7,371.3 641.7,370.9 642.7,371.7 643.7,371.4 644.7,371.0 645.7,370.3 646.7,370.8 647.7,371.0 648.7,370.7 649.7,371.1 650.7,370.5 651.7,371.0 652.7,371.0 653.7,371.3 654.7,371.4 655.7,371.4 656.7,370.9 657.7,370.9 658.7,371.6 659.7,370.8 660.7,371.4 661.7,371.8 662.7,371.7 663.7,371.1 664.7,370.7 665.7,371.2 666.7,371.3 667.7,371.0 668.7,370.7 669.7,370.9 670.7,370.3 671.7,370.7 672.7,370.4 673.7,371.3 674.7,371.7 675.7,370.5 676.7,370.2 677.7,371.4 678.7,370.8 679.7,371.0 680.7,370.3 681.7,370.5 682.7,371.3 683.7,371.2 684.7,371.6 685.7,371.7 686.7,370.8 687.7,371.2 688.7,370.9 689.7,371.0 690.7,370.8 691.7,371.8 692.7,371.2 693.7,370.4 694.7,371.3 695.7,372.1 696.7,372.4 697.7,372.1 698.7,371.2 699.7,372.5 700.7,372.0 701.7,372.0 702.7,372.0 703.7,372.0 704.7,372.0 705.7,372.0 706.7,372.0 707.7,372.0 708.7,372.0 709.7,372.0 710.7,372.0 711.7,372.0 712.7,372.0 713.7,372.0 714.7,372.0 715.7,372.0 716.7,372.0 717.7,372.0 718.7,372.0 719.7,372.0 720.7,372.0 721.7,372.0 722.7,372.0 723.7,372.0 724.7,372.0 725.7,372.0 726.7,372.0 727.7,372.0 728.7,372.0 729.7,372.0 730.7,372.0 731.7,372.0 732.7,372.0 733.7,372.0 734.7,372.0 735.7,372.0 736.7,372.0 737.7,372.0 738.7,372.0 739.7,372.0 740.7,372.5 741.7,372.3 742.7,371.9 743.7,371.9 744.7,372.3 745.7,371.5 746.7,372.3 747.7,372.0 748.7,371.4 749.7,372.1 750.7,371.2 751.7,370.4 752.7,370.0 753.7,370.3 754.7,369.0 755.7,369.3 756.7,368.9 757.7,367.8 758.7,368.1 759.7,368.4 760.7,368.0 761.7,368.4 762.7,367.7 763.7,367.9 764.7,367.4 765.7,368.0 766.7,367.9 767.7,367.4 768.7,366.8 769.7,366.2 770.7,365.7 771.7,364.1 772.7,363.5 773.7,362.1 774.7,361.0 775.7,359.9 776.7,359.5 777.7,357.9 778.7,357.3 779.7,356.5 780.7,355.6 781.7,355.4 782.7,355.4 783.7,355.2 784.7,354.7 785.7,355.0 786.7,356.3 787.7,356.8 788.7,357.9 789.7,359.1 790.7,359.3 791.7,360.8 792.7,360.5 793.7,361.6 794.7,362.6 795.7,362.7 796.7,362.9 797.7,363.9 798.7,364.6 799.7,364.7 800.7,364.5 801.7,365.9 802.7,365.3 803.7,366.6 804.7,367.3 805.7,366.9 806.7,367.9 807.7,368.7 808.7,368.7 809.7,369.3 810.7,369.6 811.7,370.1 812.7,370.3 813.7,370.7 814.7,371.3 815.7,371.2 816.7,371.2 817.7,370.9 818.7,370.9 819.7,369.9 820.7,370.1 821.7,369.2 822.7,369.4 823.7,369.2 824.7,368.1 825.7,367.2 826.7,366.5 827.7,366.0 828.7,366.0 829.7,365.6 830.7,365.0 831.7,365.1 832.7,364.7 833.7,364.0 834.7,364.1 835.7,364.3 836.7,364.3 837.7,364.2 838.7,364.1 839.7,363.9 840.7,365.3 841.7,364.8 842.7,366.2 843.7,365.7 844.7,367.2 845.7,366.8 846.7,367.6 847.7,366.7 848.7,367.1 849.7,366.4 850.7,366.5 851.7,366.0 852.7,365.6 853.7,366.1 854.7,366.9 855.7,366.5 856.7,367.8 857.7,368.7 858.7,369.3 859.7,369.4 860.7,370.4 861.7,369.2 862.7,369.8 863.7,369.6 864.7,369.6 865.7,370.9 866.7,370.5 867.7,371.8 868.7,371.8 869.7,372.3 870.7,372.4 871.7,372.0 872.7,371.8 873.7,372.0 874.7,371.7 875.7,372.5 876.7,371.8 877.7,371.9 878.7,372.0 879.7,372.1 880.7,372.1 881.7,371.6 882.7,370.7 883.7,369.5 884.7,368.1 885.7,366.8 886.7,365.1 887.7,362.9 888.7,360.6 889.7,358.5 890.7,357.1 891.7,355.9 892.7,355.0 893.7,354.1 894.7,353.3 895.7,352.5 896.7,351.7 897.7,350.9 898.7,350.2 899.7,349.5 900.7,348.7 901.7,347.9 902.7,347.0 903.7,346.1 904.7,345.3 905.7,344.4 906.7,343.4 907.7,342.4 908.7,341.2 909.7,340.0 910.7,338.5 911.7,336.9 912.7,335.0 913.7,332.5 914.7,329.5 915.7,326.0 916.7,321.7 917.7,315.9 918.7,309.1 919.7,300.7 920.7,293.2 921.7,289.8 922.7,287.8 923.7,287.6 924.7,288.0 925.7,288.6 926.7,289.3 927.7,290.1 928.7,290.9 929.7,291.9 930.7,293.2 931.7,294.5 932.7,295.7 933.7,296.9 934.7,297.8 935.7,298.7 936.7,299.5 937.7,300.4 938.7,301.4 939.7,302.7 940.7,304.6 941.7,307.8 942.7,311.5 943.7,315.1 944.7,318.7 945.7,322.4 946.7,325.9 947.7,329.0 948.7,331.9 949.7,334.6 950.7,336.7 951.7,338.1 952.7,339.3 953.7,340.3 954.7,341.0 955.7,341.3 956.7,341.2 957.7,341.1 958.7,340.8 959.7,340.5 960.7,340.2 961.7,340.0 962.7,339.7 963.7,339.5 964.7,339.4 965.7,339.6 966.7,340.2 967.7,341.0 968.7,342.0 969.7,343.0 970.7,344.0 971.7,344.9 972.7,345.8 973.7,346.8 974.7,347.9 975.7,349.0 976.7,350.1 977.7,351.4 978.7,352.6 979.7,354.0 980.7,355.5 981.7,357.4 982.7,359.3 983.7,361.3 984.7,363.2 985.7,365.0 986.7,366.4 987.7,367.6 988.7,368.8 989.7,369.8 990.7,370.3 991.7,370.2 992.7,369.5 993.7,368.5 994.7,367.4 995.7,366.2 996.7,365.1 997.7,363.8 998.7,362.4 999.7,361.0 1000.7,359.9 1001.7,359.3 1002.7,358.9 1003.7,358.6 1004.7,358.4 1005.7,358.4 1006.7,359.0 1007.7,359.7 1008.7,360.2 1009.7,360.2 1010.7,360.1 1011.7,359.8 1012.7,359.5 1013.7,359.2 1014.7,358.9 1015.7,358.6 1016.7,358.3 1017.7,358.1 1018.7,357.9 1019.7,357.7 1020.7,357.4 1021.7,357.2 1022.7,356.9 1023.7,356.6 1024.7,356.1 1025.7,355.6 1026.7,354.9 1027.7,354.1 1028.7,353.3 1029.7,352.4 1030.7,351.1 1031.7,349.7 1032.7,348.4 1033.7,347.4 1034.7,346.9 1035.7,346.5" fill="none" stroke="#FF8C0C" stroke-width="5.3" stroke-linejoin="round" stroke-linecap="round"/>
<polyline points="171.7,224.3 172.7,225.2 173.7,224.5 174.7,225.3 175.7,224.8 176.7,224.8 177.7,224.0 178.7,225.3 179.7,223.6 180.7,224.1 181.7,224.4 182.7,225.0 183.7,224.0 184.7,225.2 185.7,225.5 186.7,224.0 187.7,224.8 188.7,223.7 189.7,224.4 190.7,223.8 191.7,225.5 192.7,224.5 193.7,225.5 194.7,225.2 195.7,225.3 196.7,224.1 197.7,223.9 198.7,224.8 199.7,224.1 200.7,225.1 201.7,224.5 202.7,224.7 203.7,225.5 204.7,224.7 205.7,224.0 206.7,224.0 207.7,224.7 208.7,224.7 209.7,224.9 210.7,224.4 211.7,224.8 212.7,224.4 213.7,224.7 214.7,225.0 215.7,223.9 216.7,224.2 217.7,224.4 218.7,224.7 219.7,223.9 220.7,224.4 221.7,224.5 222.7,225.0 223.7,224.0 224.7,224.4 225.7,223.6 226.7,224.1 227.7,223.5 228.7,224.8 229.7,224.0 230.7,224.7 231.7,223.9 232.7,224.8 233.7,223.8 234.7,223.7 235.7,224.1 236.7,224.6 237.7,224.7 238.7,224.2 239.7,223.3 240.7,224.2 241.7,223.6 242.7,224.4 243.7,224.7 244.7,224.1 245.7,224.2 246.7,223.3 247.7,224.1 248.7,223.4 249.7,224.3 250.7,223.8 251.7,224.6 252.7,223.3 253.7,223.4 254.7,224.5 255.7,224.2 256.7,224.3 257.7,224.8 258.7,224.1 259.7,224.7 260.7,224.2 261.7,225.0 262.7,224.5 263.7,223.6 264.7,224.0 265.7,224.9 266.7,224.0 267.7,223.7 268.7,224.2 269.7,224.1 270.7,224.5 271.7,224.2 272.7,223.9 273.7,224.2 274.7,224.2 275.7,225.0 276.7,225.2 277.7,224.6 278.7,223.6 279.7,224.8 280.7,224.6 281.7,224.7 282.7,223.7 283.7,222.8 284.7,223.5 285.7,222.3 286.7,223.1 287.7,222.9 288.7,221.9 289.7,222.5 290.7,220.9 291.7,221.5 292.7,220.5 293.7,220.5 294.7,220.1 295.7,220.0 296.7,219.6 297.7,218.1 298.7,217.7 299.7,217.9 300.7,217.0 301.7,217.4 302.7,216.9 303.7,216.8 304.7,216.2 305.7,215.7 306.7,216.2 307.7,215.7 308.7,214.5 309.7,214.3 310.7,214.7 311.7,214.0 312.7,213.8 313.7,214.0 314.7,213.3 315.7,213.7 316.7,213.2 317.7,212.8 318.7,212.2 319.7,212.3 320.7,212.6 321.7,212.7 322.7,211.5 323.7,211.5 324.7,212.2 325.7,212.3 326.7,211.3 327.7,212.2 328.7,212.1 329.7,211.9 330.7,211.4 331.7,211.5 332.7,211.4 333.7,211.9 334.7,211.3 335.7,211.2 336.7,211.9 337.7,211.9 338.7,211.9 339.7,211.7 340.7,210.9 341.7,210.8 342.7,211.4 343.7,211.8 344.7,211.8 345.7,211.5 346.7,211.9 347.7,210.9 348.7,211.0 349.7,211.2 350.7,211.1 351.7,211.1 352.7,210.9 353.7,211.2 354.7,210.8 355.7,211.4 356.7,211.9 357.7,211.4 358.7,211.6 359.7,211.6 360.7,212.0 361.7,211.8 362.7,211.9 363.7,211.3 364.7,212.0 365.7,211.2 366.7,211.5 367.7,211.9 368.7,211.4 369.7,212.1 370.7,212.1 371.7,211.4 372.7,211.5 373.7,211.5 374.7,212.6 375.7,212.1 376.7,212.4 377.7,212.5 378.7,212.5 379.7,213.1 380.7,213.1 381.7,213.7 382.7,213.5 383.7,214.1 384.7,214.8 385.7,214.4 386.7,215.3 387.7,214.5 388.7,215.3 389.7,215.7 390.7,216.4 391.7,216.6 392.7,216.4 393.7,217.0 394.7,217.5 395.7,217.5 396.7,218.1 397.7,218.3 398.7,218.1 399.7,218.6 400.7,218.2 401.7,218.8 402.7,219.6 403.7,219.5 404.7,219.4 405.7,219.5 406.7,219.9 407.7,220.0 408.7,220.4 409.7,220.8 410.7,220.6 411.7,221.8 412.7,221.5 413.7,222.0 414.7,222.3 415.7,221.9 416.7,222.1 417.7,222.4 418.7,223.6 419.7,222.8 420.7,223.4 421.7,224.2 422.7,224.1 423.7,223.7 424.7,225.0 425.7,224.6 426.7,224.6 427.7,225.0 428.7,225.4 429.7,224.8 430.7,225.5 431.7,225.4 432.7,224.8 433.7,224.9 434.7,224.4 435.7,224.0 436.7,224.4 437.7,224.0 438.7,224.3 439.7,223.3 440.7,223.5 441.7,223.6 442.7,222.8 443.7,223.2 444.7,223.6 445.7,223.1 446.7,223.3 447.7,223.7 448.7,223.6 449.7,224.2 450.7,224.3 451.7,224.4 452.7,224.0 453.7,223.8 454.7,224.4 455.7,224.2 456.7,224.3 457.7,224.5 458.7,224.8 459.7,224.6 460.7,223.7 461.7,224.5 462.7,224.1 463.7,223.6 464.7,224.0 465.7,223.6 466.7,223.6 467.7,223.5 468.7,222.9 469.7,223.2 470.7,223.3 471.7,222.9 472.7,223.8 473.7,223.4 474.7,223.7 475.7,224.5 476.7,224.6 477.7,224.1 478.7,224.4 479.7,224.9 480.7,224.5 481.7,225.6 482.7,225.2 483.7,225.1 484.7,226.0 485.7,225.9 486.7,225.4 487.7,226.2 488.7,226.5 489.7,225.7 490.7,226.5 491.7,226.0 492.7,226.3 493.7,225.9 494.7,226.5 495.7,227.0 496.7,226.3 497.7,226.1 498.7,227.0 499.7,227.2 500.7,226.7 501.7,227.2 502.7,227.2 503.7,227.0 504.7,227.2 505.7,226.4 506.7,227.3 507.7,226.8 508.7,226.7 509.7,227.1 510.7,227.5 511.7,227.1 512.7,226.7 513.7,227.1 514.7,227.2 515.7,227.8 516.7,228.2 517.7,228.1 518.7,228.3 519.7,229.5 520.7,229.6 521.7,229.7 522.7,229.7 523.7,229.7 524.7,229.7 525.7,229.7 526.7,229.7 527.7,229.7 528.7,229.7 529.7,229.7 530.7,229.7 531.7,229.7 532.7,229.7 533.7,229.7 534.7,229.7 535.7,229.7 536.7,229.7 537.7,229.7 538.7,229.7 539.7,229.7 540.7,229.7 541.7,229.7 542.7,229.7 543.7,229.6 544.7,229.6 545.7,229.6 546.7,229.6 547.7,229.6 548.7,229.6 549.7,229.6 550.7,229.6 551.7,229.6 552.7,229.6 553.7,229.6 554.7,229.6 555.7,229.6 556.7,229.6 557.7,229.6 558.7,229.6 559.7,229.6 560.7,229.6 561.7,229.6 562.7,229.6 563.7,229.6 564.7,229.6 565.7,229.6 566.7,229.6 567.7,229.5 568.7,229.5 569.7,229.5 570.7,229.5 571.7,229.5 572.7,229.5 573.7,229.5 574.7,229.5 575.7,229.5 576.7,229.5 577.7,229.5 578.7,229.4 579.7,229.4 580.7,229.4 581.7,229.4 582.7,229.4 583.7,229.4 584.7,229.4 585.7,229.4 586.7,229.3 587.7,229.3 588.7,228.9 589.7,228.0 590.7,227.4 591.7,227.3 592.7,227.3 593.7,227.3 594.7,227.3 595.7,227.3 596.7,227.3 597.7,227.3 598.7,227.3 599.7,227.3 600.7,227.3 601.7,227.3 602.7,227.3 603.7,227.3 604.7,227.3 605.7,227.3 606.7,227.3 607.7,227.3 608.7,227.3 609.7,227.3 610.7,227.3 611.7,227.3 612.7,227.3 613.7,227.3 614.7,227.3 615.7,227.3 616.7,227.3 617.7,227.3 618.7,227.3 619.7,227.3 620.7,227.3 621.7,227.3 622.7,227.3 623.7,227.3 624.7,227.3 625.7,227.3 626.7,227.3 627.7,227.3 628.7,227.3 629.7,227.3 630.7,227.3 631.7,227.3 632.7,227.3 633.7,227.3 634.7,227.3 635.7,227.3 636.7,227.3 637.7,227.3 638.7,227.3 639.7,227.3 640.7,227.3 641.7,227.2 642.7,226.7 643.7,226.2 644.7,226.0 645.7,226.0 646.7,225.9 647.7,225.9 648.7,225.9 649.7,225.8 650.7,225.8 651.7,225.8 652.7,225.8 653.7,225.8 654.7,225.8 655.7,225.7 656.7,225.7 657.7,225.7 658.7,225.7 659.7,225.7 660.7,225.7 661.7,225.7 662.7,225.7 663.7,225.7 664.7,225.7 665.7,225.7 666.7,225.7 667.7,225.7 668.7,225.7 669.7,225.7 670.7,225.7 671.7,225.7 672.7,225.7 673.7,225.7 674.7,225.7 675.7,225.7 676.7,225.6 677.7,225.6 678.7,225.6 679.7,225.6 680.7,225.6 681.7,225.6 682.7,225.6 683.7,225.6 684.7,225.6 685.7,225.6 686.7,225.5 687.7,225.5 688.7,225.5 689.7,225.5 690.7,225.4 691.7,225.4 692.7,225.4 693.7,225.4 694.7,225.3 695.7,224.7 696.7,224.0 697.7,223.7 698.7,223.6 699.7,223.6 700.7,223.6 701.7,223.5 702.7,223.5 703.7,223.5 704.7,223.5 705.7,223.5 706.7,223.4 707.7,223.4 708.7,223.4 709.7,223.4 710.7,223.4 711.7,223.4 712.7,223.4 713.7,223.4 714.7,223.3 715.7,223.3 716.7,223.3 717.7,223.3 718.7,223.3 719.7,223.3 720.7,223.3 721.7,223.3 722.7,223.3 723.7,223.3 724.7,223.3 725.7,223.3 726.7,223.3 727.7,223.3 728.7,223.3 729.7,223.3 730.7,223.3 731.7,223.3 732.7,223.3 733.7,223.3 734.7,223.3 735.7,223.3 736.7,223.2 737.7,223.2 738.7,223.2 739.7,223.2 740.7,222.9 741.7,222.8 742.7,223.3 743.7,223.1 744.7,223.1 745.7,222.8 746.7,223.1 747.7,223.2 748.7,223.4 749.7,222.7 750.7,223.0 751.7,223.0 752.7,223.0 753.7,223.1 754.7,222.6 755.7,222.5 756.7,222.2 757.7,222.2 758.7,222.0 759.7,221.3 760.7,221.3 761.7,220.9 762.7,220.2 763.7,219.9 764.7,219.2 765.7,218.2 766.7,217.5 767.7,217.0 768.7,215.9 769.7,215.1 770.7,214.1 771.7,213.7 772.7,213.0 773.7,211.8 774.7,211.0 775.7,210.5 776.7,209.4 777.7,208.7 778.7,208.4 779.7,208.4 780.7,208.0 781.7,207.9 782.7,207.7 783.7,207.5 784.7,207.8 785.7,207.6 786.7,207.8 787.7,208.1 788.7,209.0 789.7,210.1 790.7,211.4 791.7,212.2 792.7,213.3 793.7,214.1 794.7,214.9 795.7,216.3 796.7,216.5 797.7,216.8 798.7,217.4 799.7,218.2 800.7,218.8 801.7,219.5 802.7,219.7 803.7,219.9 804.7,220.6 805.7,220.6 806.7,221.0 807.7,221.1 808.7,221.9 809.7,222.0 810.7,222.2 811.7,222.3 812.7,223.1 813.7,223.0 814.7,223.8 815.7,223.6 816.7,224.3 817.7,224.8 818.7,224.8 819.7,225.2 820.7,225.9 821.7,225.6 822.7,226.0 823.7,225.5 824.7,225.9 825.7,225.2 826.7,224.1 827.7,224.0 828.7,223.3 829.7,222.3 830.7,222.2 831.7,222.4 832.7,222.4 833.7,222.1 834.7,221.9 835.7,222.1 836.7,222.3 837.7,222.1 838.7,221.8 839.7,221.9 840.7,222.2 841.7,222.0 842.7,222.2 843.7,221.7 844.7,222.2 845.7,222.5 846.7,222.9 847.7,222.8 848.7,223.6 849.7,223.4 850.7,222.6 851.7,221.7 852.7,221.8 853.7,222.2 854.7,222.2 855.7,222.5 856.7,222.9 857.7,223.3 858.7,223.9 859.7,223.5 860.7,223.6 861.7,223.8 862.7,223.6 863.7,223.7 864.7,224.2 865.7,224.3 866.7,224.0 867.7,224.1 868.7,224.5 869.7,224.4 870.7,224.3 871.7,224.7 872.7,224.7 873.7,224.4 874.7,224.2 875.7,224.7 876.7,224.8 877.7,224.6 878.7,224.8 879.7,224.1 880.7,224.5 881.7,224.5 882.7,224.5 883.7,224.5 884.7,223.9 885.7,221.6 886.7,218.4 887.7,215.2 888.7,212.8 889.7,210.8 890.7,209.0 891.7,207.3 892.7,205.8 893.7,204.4 894.7,203.1 895.7,202.0 896.7,200.9 897.7,199.9 898.7,199.0 899.7,198.1 900.7,197.1 901.7,196.2 902.7,195.3 903.7,194.4 904.7,193.6 905.7,192.9 906.7,192.2 907.7,191.4 908.7,190.6 909.7,189.7 910.7,188.6 911.7,187.5 912.7,186.1 913.7,184.3 914.7,181.9 915.7,178.8 916.7,174.2 917.7,166.4 918.7,156.9 919.7,145.4 920.7,135.1 921.7,130.4 922.7,127.5 923.7,127.4 924.7,128.6 925.7,130.4 926.7,132.3 927.7,134.0 928.7,135.7 929.7,137.5 930.7,139.4 931.7,141.5 932.7,143.7 933.7,146.2 934.7,149.1 935.7,152.4 936.7,156.1 937.7,160.3 938.7,165.1 939.7,171.4 940.7,178.4 941.7,185.3 942.7,192.0 943.7,199.0 944.7,205.6 945.7,211.1 946.7,216.0 947.7,220.0 948.7,221.9 949.7,223.0 950.7,223.7 951.7,224.1 952.7,224.0 953.7,223.5 954.7,222.8 955.7,221.9 956.7,221.0 957.7,220.3 958.7,219.6 959.7,218.8 960.7,218.1 961.7,217.7 962.7,217.8 963.7,218.1 964.7,218.7 965.7,219.5 966.7,220.2 967.7,220.9 968.7,221.5 969.7,221.9 970.7,222.4 971.7,222.9 972.7,223.4 973.7,223.8 974.7,224.0 975.7,224.1 976.7,224.1 977.7,224.1 978.7,224.1 979.7,224.1 980.7,224.1 981.7,224.1 982.7,224.1 983.7,224.1 984.7,224.1 985.7,224.1 986.7,224.1 987.7,224.1 988.7,224.1 989.7,224.1 990.7,224.1 991.7,224.1 992.7,224.1 993.7,223.3 994.7,221.9 995.7,220.3 996.7,218.9 997.7,218.1 998.7,217.3 999.7,216.7 1000.7,216.4 1001.7,216.8 1002.7,217.7 1003.7,218.8 1004.7,219.8 1005.7,221.1 1006.7,222.4 1007.7,223.7 1008.7,224.5 1009.7,225.0 1010.7,225.4 1011.7,225.7 1012.7,226.0 1013.7,226.2 1014.7,226.4 1015.7,226.5 1016.7,226.5 1017.7,226.5 1018.7,226.3 1019.7,226.1 1020.7,225.9 1021.7,225.6 1022.7,225.4 1023.7,225.1 1024.7,224.7 1025.7,224.2 1026.7,223.7 1027.7,223.1 1028.7,222.6 1029.7,222.0 1030.7,221.4 1031.7,220.7 1032.7,220.2 1033.7,219.9 1034.7,220.2 1035.7,220.9" fill="none" stroke="#07840A" stroke-width="5.3" stroke-linejoin="round" stroke-linecap="round"/>
<line x1="171.7" y1="711.4" x2="171.7" y2="726.9" stroke="#000" stroke-width="4.8"/>
<line x1="430.4" y1="711.4" x2="430.4" y2="726.9" stroke="#000" stroke-width="4.8"/>
<line x1="689.6" y1="711.4" x2="689.6" y2="726.9" stroke="#000" stroke-width="4.8"/>
<line x1="948.8" y1="711.4" x2="948.8" y2="726.9" stroke="#000" stroke-width="4.8"/>
<line x1="301" y1="711.4" x2="301" y2="720.9" stroke="#000" stroke-width="3.8"/>
<line x1="560" y1="711.4" x2="560" y2="720.9" stroke="#000" stroke-width="3.8"/>
<line x1="819.2" y1="711.4" x2="819.2" y2="720.9" stroke="#000" stroke-width="3.8"/>
<text x="114.5" y="771.2" font-size="45.5" font-weight="bold" textLength="108.0" lengthAdjust="spacingAndGlyphs">4000</text>
<text x="375.5" y="771.2" font-size="45.5" font-weight="bold" textLength="105.0" lengthAdjust="spacingAndGlyphs">3000</text>
<text x="633" y="771.2" font-size="45.5" font-weight="bold" textLength="109" lengthAdjust="spacingAndGlyphs">2000</text>
<text x="894.5" y="771.2" font-size="45.5" font-weight="bold" textLength="106.5" lengthAdjust="spacingAndGlyphs">1000</text>
<text x="345.5" y="832" font-size="49.5" font-weight="bold" textLength="516" lengthAdjust="spacingAndGlyphs">Wavenummber (cm<tspan font-size="31" dy="-12.5"> −1</tspan><tspan dy="12.5">)</tspan></text>
<text transform="translate(130,614) rotate(-90)" font-size="50" font-weight="bold" textLength="423" lengthAdjust="spacingAndGlyphs">Absorbance (a.u.)</text>
<text x="11" y="58" font-size="71" font-weight="bold" textLength="87" lengthAdjust="spacingAndGlyphs">(a)</text>
<text x="329" y="59.3" font-family="Liberation Serif, serif" font-style="italic" font-weight="bold" font-size="29" textLength="13" lengthAdjust="spacingAndGlyphs">ν</text><text x="340" y="70.0" font-style="italic" font-size="24" stroke="#000" stroke-width="0.45" textLength="41" lengthAdjust="spacingAndGlyphs">O-H</text><text x="432" y="59.3" font-family="Liberation Serif, serif" font-style="italic" font-weight="bold" font-size="29" textLength="13" lengthAdjust="spacingAndGlyphs">ν</text><text x="445" y="70.0" font-style="italic" font-size="24" stroke="#000" stroke-width="0.45" textLength="38" lengthAdjust="spacingAndGlyphs">C-H</text><text x="753.5" y="60.3" font-family="Liberation Serif, serif" font-style="italic" font-size="30.5" stroke="#000" stroke-width="0.8" textLength="15.5" lengthAdjust="spacingAndGlyphs">δ</text><text x="766" y="71.0" font-style="italic" font-size="24" stroke="#000" stroke-width="0.45" textLength="40.7" lengthAdjust="spacingAndGlyphs">O-H</text><text x="810.3" y="59.3" font-family="Liberation Serif, serif" font-style="italic" font-weight="bold" font-size="29" textLength="12.5" lengthAdjust="spacingAndGlyphs">ν</text><text x="824" y="70.0" font-style="italic" font-size="24" stroke="#000" stroke-width="0.45" textLength="66.6" lengthAdjust="spacingAndGlyphs">Ti-O-Ti</text><text x="899.3" y="60.3" font-family="Liberation Serif, serif" font-style="italic" font-size="30.5" stroke="#000" stroke-width="0.8" textLength="15" lengthAdjust="spacingAndGlyphs">δ</text><text x="912.8" y="71.0" font-style="italic" font-size="24" stroke="#000" stroke-width="0.45" textLength="71.6" lengthAdjust="spacingAndGlyphs">Si-O-Si</text>
<line x1="197.3" y1="126.5" x2="256.5" y2="126.5" stroke="#000" stroke-width="5.3"/>
<text x="272.5" y="134.2" font-size="34.3" font-weight="bold" textLength="95.7" lengthAdjust="spacingAndGlyphs">CSNP</text>
<line x1="197.3" y1="169.8" x2="256.5" y2="169.8" stroke="#0000FF" stroke-width="5.3"/>
<text x="274.0" y="175.5" font-size="34.3" font-weight="bold" textLength="147.4" lengthAdjust="spacingAndGlyphs">PT-CSNP</text>
<line x1="499" y1="126.5" x2="558" y2="126.5" stroke="#FF8C0C" stroke-width="5.3"/>
<text x="574.8" y="134.2" font-size="34.3" font-weight="bold" textLength="171.1" lengthAdjust="spacingAndGlyphs">PPy-CSNP</text>
<line x1="499" y1="169.8" x2="558" y2="169.8" stroke="#07840A" stroke-width="5.3"/>
<text x="574.8" y="175.5" font-size="34.3" font-weight="bold" textLength="187.3" lengthAdjust="spacingAndGlyphs">PANI-CSNP</text>
</g>
<g transform="translate(0,888.9)">
<rect x="301" y="78.5" width="107.0" height="632.9" fill="#FFF5DC"/>
<rect x="423" y="78.5" width="63.0" height="632.9" fill="#E3E3E3"/>
<rect x="761" y="78.5" width="46.0" height="632.9" fill="#CFE1F2"/>
<rect x="813" y="78.5" width="46.5" height="632.9" fill="#F9DBC6"/>
<rect x="904.5" y="78.5" width="46.5" height="632.9" fill="#D6EACC"/>
<rect x="171.7" y="78.5" width="864.6" height="632.9" fill="none" stroke="#000" stroke-width="5"/>
<polyline points="171.7,663.8 172.7,663.5 173.7,663.4 174.7,664.1 175.7,664.6 176.7,664.3 177.7,664.5 178.7,664.0 179.7,664.8 180.7,665.5 181.7,665.5 182.7,665.4 183.7,664.7 184.7,665.8 185.7,665.9 186.7,665.0 187.7,665.7 188.7,664.9 189.7,665.1 190.7,665.5 191.7,665.3 192.7,666.2 193.7,666.3 194.7,665.7 195.7,665.7 196.7,665.5 197.7,665.4 198.7,666.3 199.7,666.2 200.7,665.5 201.7,666.1 202.7,666.0 203.7,666.6 204.7,666.4 205.7,666.2 206.7,666.1 207.7,666.7 208.7,666.7 209.7,665.7 210.7,665.6 211.7,666.3 212.7,665.2 213.7,665.6 214.7,665.1 215.7,665.4 216.7,665.0 217.7,665.2 218.7,665.8 219.7,665.9 220.7,665.7 221.7,665.2 222.7,665.2 223.7,664.8 224.7,664.4 225.7,664.7 226.7,665.1 227.7,664.0 228.7,663.9 229.7,664.8 230.7,664.1 231.7,664.6 232.7,664.5 233.7,664.7 234.7,663.8 235.7,663.6 236.7,664.2 237.7,664.0 238.7,663.7 239.7,663.8 240.7,663.4 241.7,663.7 242.7,662.7 243.7,663.1 244.7,663.2 245.7,662.2 246.7,662.5 247.7,662.0 248.7,661.9 249.7,661.2 250.7,661.0 251.7,661.9 252.7,661.3 253.7,661.4 254.7,661.4 255.7,660.8 256.7,660.5 257.7,660.1 258.7,660.7 259.7,660.5 260.7,660.1 261.7,660.0 262.7,659.1 263.7,658.5 264.7,656.8 265.7,656.5 266.7,654.7 267.7,653.7 268.7,652.3 269.7,651.5 270.7,650.6 271.7,649.5 272.7,648.3 273.7,647.2 274.7,646.7 275.7,645.2 276.7,644.3 277.7,643.0 278.7,642.2 279.7,641.0 280.7,640.2 281.7,639.5 282.7,638.7 283.7,637.4 284.7,636.2 285.7,635.5 286.7,634.5 287.7,633.7 288.7,632.6 289.7,631.9 290.7,630.6 291.7,629.5 292.7,628.7 293.7,628.1 294.7,627.0 295.7,625.9 296.7,625.0 297.7,624.3 298.7,623.2 299.7,622.4 300.7,621.9 301.7,621.1 302.7,620.2 303.7,618.9 304.7,618.5 305.7,617.5 306.7,617.2 307.7,616.0 308.7,615.7 309.7,614.4 310.7,613.9 311.7,613.6 312.7,612.7 313.7,612.3 314.7,611.4 315.7,610.7 316.7,610.6 317.7,610.0 318.7,609.6 319.7,608.8 320.7,608.4 321.7,608.7 322.7,608.3 323.7,608.0 324.7,607.1 325.7,606.6 326.7,606.7 327.7,606.7 328.7,606.4 329.7,605.8 330.7,605.8 331.7,606.1 332.7,605.5 333.7,606.0 334.7,606.0 335.7,605.4 336.7,605.1 337.7,605.8 338.7,605.6 339.7,605.3 340.7,605.2 341.7,605.5 342.7,605.1 343.7,604.8 344.7,605.2 345.7,605.0 346.7,605.2 347.7,605.5 348.7,605.0 349.7,604.9 350.7,604.7 351.7,605.4 352.7,604.8 353.7,605.5 354.7,605.3 355.7,605.4 356.7,605.4 357.7,604.9 358.7,604.8 359.7,605.5 360.7,604.9 361.7,605.3 362.7,604.8 363.7,604.9 364.7,605.3 365.7,605.1 366.7,605.8 367.7,606.2 368.7,606.1 369.7,606.5 370.7,606.8 371.7,607.6 372.7,607.8 373.7,608.8 374.7,609.5 375.7,609.9 376.7,610.5 377.7,611.1 378.7,612.1 379.7,612.5 380.7,613.6 381.7,614.1 382.7,614.9 383.7,616.0 384.7,617.5 385.7,618.1 386.7,619.5 387.7,620.7 388.7,621.4 389.7,622.1 390.7,623.5 391.7,624.4 392.7,625.9 393.7,626.4 394.7,627.6 395.7,628.9 396.7,630.1 397.7,630.9 398.7,632.2 399.7,633.5 400.7,634.4 401.7,635.1 402.7,636.4 403.7,637.3 404.7,638.2 405.7,638.8 406.7,639.8 407.7,641.1 408.7,641.9 409.7,642.7 410.7,643.3 411.7,643.8 412.7,645.0 413.7,645.2 414.7,646.2 415.7,647.0 416.7,647.7 417.7,648.4 418.7,649.3 419.7,650.4 420.7,651.0 421.7,651.9 422.7,652.7 423.7,653.6 424.7,654.8 425.7,655.5 426.7,655.9 427.7,657.4 428.7,658.1 429.7,659.4 430.7,660.3 431.7,661.3 432.7,662.8 433.7,663.1 434.7,663.6 435.7,663.7 436.7,663.6 437.7,662.4 438.7,661.9 439.7,661.2 440.7,660.6 441.7,659.6 442.7,659.7 443.7,659.5 444.7,659.6 445.7,659.7 446.7,659.9 447.7,660.7 448.7,661.1 449.7,660.8 450.7,661.1 451.7,661.7 452.7,661.9 453.7,662.0 454.7,661.6 455.7,661.4 456.7,661.3 457.7,661.4 458.7,661.5 459.7,661.6 460.7,660.8 461.7,660.8 462.7,661.2 463.7,661.2 464.7,661.0 465.7,661.3 466.7,661.7 467.7,662.8 468.7,663.1 469.7,663.8 470.7,664.8 471.7,665.0 472.7,665.8 473.7,665.9 474.7,666.3 475.7,667.2 476.7,667.8 477.7,667.9 478.7,668.3 479.7,669.0 480.7,668.8 481.7,669.4 482.7,670.2 483.7,670.4 484.7,669.9 485.7,670.0 486.7,670.6 487.7,670.4 488.7,670.6 489.7,670.5 490.7,670.4 491.7,670.6 492.7,670.5 493.7,670.0 494.7,670.4 495.7,670.7 496.7,670.7 497.7,670.6 498.7,670.5 499.7,670.7 500.7,670.3 501.7,670.3 502.7,670.5 503.7,670.7 504.7,670.2 505.7,670.0 506.7,670.0 507.7,670.0 508.7,669.5 509.7,669.8 510.7,669.8 511.7,669.1 512.7,669.4 513.7,668.8 514.7,668.8 515.7,669.0 516.7,668.7 517.7,668.4 518.7,668.6 519.7,668.5 520.7,668.9 521.7,668.6 522.7,668.6 523.7,669.2 524.7,669.3 525.7,669.4 526.7,669.3 527.7,670.1 528.7,669.6 529.7,670.4 530.7,670.0 531.7,670.2 532.7,670.8 533.7,671.0 534.7,670.9 535.7,671.2 536.7,670.6 537.7,671.3 538.7,671.1 539.7,670.9 540.7,671.2 541.7,670.8 542.7,671.3 543.7,671.2 544.7,670.8 545.7,670.9 546.7,670.9 547.7,671.1 548.7,670.9 549.7,670.9 550.7,671.1 551.7,670.8 552.7,671.2 553.7,671.0 554.7,670.9 555.7,671.0 556.7,670.7 557.7,671.3 558.7,670.6 559.7,670.9 560.7,671.3 561.7,670.6 562.7,671.0 563.7,671.2 564.7,671.2 565.7,670.7 566.7,670.9 567.7,671.1 568.7,670.8 569.7,671.0 570.7,670.8 571.7,670.2 572.7,670.5 573.7,670.9 574.7,670.5 575.7,670.4 576.7,670.3 577.7,670.2 578.7,670.5 579.7,670.2 580.7,670.6 581.7,669.8 582.7,670.4 583.7,669.6 584.7,670.1 585.7,669.6 586.7,669.7 587.7,669.3 588.7,669.0 589.7,669.4 590.7,669.0 591.7,668.5 592.7,668.7 593.7,668.2 594.7,668.2 595.7,668.2 596.7,668.0 597.7,667.5 598.7,667.4 599.7,667.5 600.7,667.4 601.7,667.6 602.7,667.3 603.7,667.4 604.7,667.0 605.7,666.8 606.7,666.8 607.7,666.6 608.7,666.8 609.7,667.0 610.7,667.1 611.7,666.6 612.7,666.9 613.7,666.9 614.7,666.8 615.7,667.0 616.7,666.7 617.7,666.6 618.7,666.6 619.7,666.2 620.7,666.1 621.7,666.5 622.7,666.4 623.7,666.1 624.7,666.3 625.7,666.5 626.7,666.3 627.7,666.2 628.7,666.4 629.7,665.8 630.7,666.4 631.7,666.2 632.7,665.9 633.7,666.0 634.7,666.0 635.7,665.6 636.7,665.5 637.7,665.3 638.7,665.3 639.7,665.1 640.7,664.5 641.7,664.2 642.7,664.3 643.7,664.3 644.7,664.4 645.7,665.9 646.7,668.2 647.7,668.5 648.7,668.1 649.7,667.4 650.7,665.9 651.7,665.9 652.7,665.8 653.7,665.8 654.7,665.8 655.7,665.2 656.7,665.6 657.7,665.1 658.7,664.7 659.7,664.7 660.7,664.8 661.7,665.0 662.7,664.4 663.7,664.4 664.7,664.8 665.7,664.8 666.7,664.3 667.7,664.1 668.7,664.5 669.7,664.6 670.7,663.9 671.7,664.3 672.7,663.9 673.7,664.2 674.7,663.7 675.7,663.7 676.7,663.9 677.7,664.1 678.7,663.3 679.7,663.2 680.7,663.1 681.7,663.4 682.7,662.8 683.7,662.7 684.7,662.8 685.7,663.1 686.7,662.9 687.7,664.4 688.7,665.7 689.7,666.0 690.7,665.3 691.7,664.6 692.7,663.5 693.7,663.7 694.7,663.3 695.7,663.8 696.7,663.4 697.7,663.8 698.7,663.5 699.7,663.0 700.7,663.5 701.7,663.0 702.7,663.2 703.7,663.2 704.7,662.8 705.7,662.8 706.7,662.9 707.7,662.8 708.7,662.8 709.7,662.7 710.7,662.8 711.7,663.1 712.7,662.8 713.7,662.8 714.7,662.6 715.7,662.6 716.7,662.6 717.7,663.0 718.7,663.0 719.7,662.6 720.7,662.7 721.7,662.8 722.7,662.8 723.7,662.7 724.7,662.6 725.7,663.1 726.7,662.8 727.7,663.0 728.7,663.3 729.7,663.4 730.7,663.3 731.7,663.5 732.7,663.7 733.7,663.4 734.7,663.6 735.7,662.7 736.7,661.7 737.7,661.4 738.7,661.0 739.7,660.5 740.7,660.5 741.7,660.3 742.7,660.2 743.7,660.3 744.7,659.9 745.7,660.0 746.7,659.7 747.7,659.8 748.7,660.0 749.7,659.8 750.7,659.5 751.7,659.4 752.7,659.6 753.7,659.4 754.7,659.6 755.7,659.1 756.7,659.4 757.7,658.9 758.7,659.1 759.7,658.9 760.7,658.3 761.7,658.2 762.7,658.0 763.7,657.3 764.7,656.4 765.7,656.1 766.7,655.1 767.7,654.0 768.7,653.0 769.7,652.4 770.7,651.3 771.7,650.6 772.7,649.0 773.7,647.6 774.7,646.7 775.7,645.0 776.7,643.8 777.7,642.3 778.7,641.3 779.7,640.4 780.7,638.8 781.7,638.0 782.7,637.2 783.7,637.4 784.7,637.6 785.7,638.8 786.7,640.4 787.7,642.0 788.7,643.7 789.7,645.2 790.7,646.4 791.7,648.1 792.7,649.8 793.7,651.1 794.7,652.5 795.7,654.1 796.7,654.9 797.7,656.0 798.7,656.7 799.7,657.7 800.7,657.8 801.7,658.5 802.7,659.0 803.7,659.7 804.7,660.2 805.7,660.4 806.7,661.0 807.7,661.1 808.7,661.4 809.7,661.7 810.7,661.9 811.7,662.6 812.7,662.7 813.7,662.6 814.7,662.8 815.7,662.4 816.7,661.6 817.7,661.2 818.7,660.2 819.7,658.8 820.7,657.2 821.7,655.9 822.7,654.3 823.7,652.2 824.7,649.3 825.7,646.2 826.7,642.5 827.7,639.0 828.7,636.2 829.7,633.6 830.7,631.7 831.7,629.8 832.7,628.1 833.7,627.1 834.7,625.9 835.7,625.5 836.7,625.8 837.7,626.2 838.7,627.3 839.7,629.2 840.7,630.5 841.7,632.9 842.7,634.3 843.7,636.3 844.7,639.0 845.7,641.9 846.7,645.3 847.7,647.6 848.7,649.8 849.7,651.6 850.7,652.4 851.7,653.3 852.7,654.2 853.7,654.5 854.7,655.2 855.7,655.6 856.7,656.2 857.7,657.0 858.7,658.7 859.7,660.3 860.7,661.6 861.7,661.8 862.7,661.9 863.7,662.0 864.7,662.0 865.7,662.1 866.7,662.2 867.7,662.4 868.7,662.9 869.7,663.6 870.7,664.5 871.7,665.5 872.7,666.6 873.7,667.7 874.7,668.8 875.7,669.8 876.7,670.9 877.7,672.1 878.7,673.3 879.7,674.5 880.7,675.7 881.7,676.7 882.7,677.7 883.7,678.7 884.7,679.7 885.7,680.5 886.7,680.8 887.7,680.5 888.7,679.8 889.7,678.7 890.7,677.4 891.7,676.0 892.7,674.4 893.7,672.3 894.7,669.6 895.7,666.6 896.7,663.4 897.7,660.4 898.7,657.6 899.7,655.1 900.7,652.6 901.7,650.2 902.7,647.8 903.7,645.4 904.7,643.0 905.7,640.7 906.7,638.4 907.7,636.0 908.7,633.7 909.7,631.4 910.7,629.1 911.7,626.8 912.7,624.6 913.7,622.4 914.7,620.2 915.7,618.2 916.7,616.5 917.7,615.0 918.7,613.6 919.7,612.0 920.7,609.9 921.7,607.3 922.7,603.8 923.7,594.5 924.7,581.6 925.7,571.7 926.7,563.3 927.7,556.6 928.7,552.5 929.7,549.7 930.7,547.4 931.7,545.1 932.7,541.8 933.7,536.4 934.7,529.4 935.7,522.9 936.7,518.6 937.7,515.1 938.7,512.1 939.7,510.2 940.7,509.8 941.7,511.5 942.7,514.5 943.7,518.0 944.7,522.3 945.7,527.9 946.7,534.1 947.7,540.1 948.7,546.5 949.7,553.0 950.7,558.6 951.7,563.1 952.7,567.4 953.7,570.8 954.7,572.2 955.7,571.8 956.7,570.5 957.7,568.9 958.7,567.2 959.7,564.8 960.7,561.9 961.7,559.1 962.7,557.0 963.7,555.9 964.7,554.9 965.7,554.1 966.7,553.5 967.7,553.1 968.7,552.9 969.7,553.4 970.7,554.4 971.7,555.8 972.7,557.8 973.7,562.1 974.7,567.6 975.7,572.4 976.7,575.6 977.7,577.9 978.7,580.2 979.7,583.0 980.7,587.1 981.7,595.5 982.7,606.3 983.7,616.0 984.7,625.8 985.7,635.3 986.7,643.3 987.7,649.7 988.7,655.4 989.7,660.2 990.7,663.5 991.7,666.2 992.7,668.5 993.7,670.4 994.7,671.4 995.7,671.4 996.7,670.5 997.7,669.0 998.7,667.4 999.7,666.1 1000.7,665.3 1001.7,664.6 1002.7,663.9 1003.7,663.3 1004.7,662.7 1005.7,662.2 1006.7,661.7 1007.7,661.2 1008.7,660.7 1009.7,660.3 1010.7,659.9 1011.7,659.5 1012.7,659.1 1013.7,658.9 1014.7,658.7 1015.7,658.5 1016.7,658.3 1017.7,658.2 1018.7,658.1 1019.7,658.0 1020.7,657.9 1021.7,657.8 1022.7,657.7 1023.7,657.6 1024.7,657.4 1025.7,657.3 1026.7,657.2 1027.7,657.1 1028.7,656.9 1029.7,656.8 1030.7,656.6 1031.7,656.3 1032.7,656.1 1033.7,655.8 1034.7,655.5 1035.7,655.2" fill="none" stroke="#000" stroke-width="5.1" stroke-linejoin="round" stroke-linecap="round"/>
<polyline points="171.7,482.8 172.7,482.1 173.7,483.6 174.7,482.7 175.7,483.5 176.7,482.4 177.7,484.7 178.7,484.9 179.7,483.0 180.7,485.4 181.7,483.6 182.7,484.1 183.7,485.1 184.7,486.1 185.7,486.1 186.7,484.2 187.7,485.7 188.7,485.9 189.7,486.0 190.7,486.9 191.7,485.7 192.7,487.4 193.7,485.9 194.7,486.4 195.7,486.7 196.7,487.5 197.7,488.7 198.7,488.5 199.7,489.6 200.7,488.7 201.7,490.0 202.7,490.2 203.7,489.6 204.7,489.9 205.7,491.6 206.7,491.0 207.7,491.9 208.7,491.6 209.7,491.9 210.7,490.9 211.7,491.1 212.7,491.0 213.7,492.4 214.7,490.5 215.7,492.4 216.7,491.1 217.7,491.2 218.7,491.3 219.7,491.1 220.7,491.3 221.7,490.3 222.7,490.4 223.7,492.0 224.7,491.8 225.7,490.4 226.7,491.1 227.7,490.9 228.7,490.6 229.7,491.8 230.7,491.8 231.7,491.6 232.7,493.8 233.7,495.3 234.7,494.1 235.7,494.3 236.7,494.2 237.7,492.5 238.7,491.3 239.7,490.4 240.7,491.4 241.7,491.0 242.7,491.4 243.7,491.4 244.7,491.7 245.7,492.6 246.7,490.7 247.7,492.1 248.7,489.6 249.7,490.7 250.7,489.5 251.7,491.7 252.7,492.8 253.7,494.6 254.7,495.9 255.7,495.6 256.7,496.5 257.7,497.0 258.7,495.9 259.7,494.5 260.7,493.8 261.7,492.8 262.7,493.5 263.7,491.2 264.7,491.0 265.7,489.0 266.7,486.4 267.7,482.6 268.7,482.7 269.7,480.9 270.7,477.8 271.7,477.4 272.7,475.7 273.7,474.8 274.7,473.7 275.7,472.5 276.7,471.0 277.7,469.7 278.7,469.7 279.7,468.8 280.7,466.8 281.7,465.8 282.7,465.1 283.7,464.1 284.7,463.8 285.7,461.8 286.7,461.0 287.7,460.2 288.7,458.9 289.7,457.5 290.7,457.0 291.7,455.0 292.7,453.9 293.7,453.1 294.7,452.5 295.7,450.6 296.7,449.3 297.7,449.3 298.7,447.1 299.7,446.7 300.7,445.2 301.7,444.6 302.7,443.7 303.7,441.8 304.7,441.2 305.7,440.2 306.7,439.0 307.7,437.7 308.7,436.8 309.7,436.6 310.7,434.9 311.7,434.3 312.7,434.3 313.7,433.2 314.7,432.4 315.7,430.5 316.7,429.9 317.7,429.0 318.7,428.7 319.7,428.0 320.7,427.2 321.7,427.1 322.7,426.3 323.7,425.8 324.7,424.5 325.7,424.8 326.7,424.1 327.7,423.1 328.7,422.8 329.7,423.1 330.7,421.8 331.7,421.3 332.7,421.3 333.7,420.8 334.7,419.6 335.7,419.9 336.7,419.8 337.7,419.7 338.7,418.9 339.7,417.7 340.7,417.5 341.7,417.4 342.7,417.3 343.7,416.2 344.7,416.3 345.7,415.8 346.7,416.4 347.7,416.0 348.7,415.4 349.7,414.8 350.7,414.0 351.7,414.8 352.7,414.4 353.7,414.1 354.7,412.7 355.7,413.4 356.7,412.2 357.7,413.1 358.7,412.4 359.7,412.7 360.7,411.6 361.7,411.6 362.7,411.6 363.7,410.6 364.7,410.8 365.7,410.8 366.7,410.2 367.7,409.8 368.7,409.7 369.7,410.1 370.7,410.0 371.7,409.4 372.7,409.4 373.7,409.6 374.7,408.3 375.7,408.1 376.7,409.1 377.7,408.9 378.7,408.2 379.7,408.8 380.7,408.8 381.7,408.5 382.7,408.5 383.7,408.4 384.7,409.0 385.7,408.4 386.7,409.2 387.7,409.4 388.7,409.2 389.7,408.6 390.7,408.9 391.7,409.1 392.7,408.9 393.7,409.2 394.7,409.4 395.7,409.0 396.7,409.0 397.7,409.9 398.7,410.1 399.7,409.2 400.7,410.3 401.7,409.8 402.7,410.6 403.7,410.4 404.7,411.4 405.7,410.6 406.7,412.0 407.7,411.4 408.7,411.3 409.7,412.0 410.7,411.6 411.7,412.7 412.7,412.4 413.7,412.5 414.7,412.4 415.7,412.7 416.7,413.3 417.7,412.9 418.7,413.6 419.7,414.4 420.7,413.9 421.7,413.8 422.7,414.9 423.7,414.9 424.7,415.1 425.7,414.6 426.7,415.2 427.7,415.7 428.7,415.9 429.7,416.0 430.7,416.4 431.7,416.7 432.7,418.0 433.7,417.5 434.7,418.3 435.7,418.9 436.7,418.9 437.7,419.5 438.7,420.0 439.7,421.4 440.7,421.1 441.7,422.3 442.7,422.2 443.7,423.1 444.7,423.6 445.7,423.5 446.7,424.2 447.7,425.1 448.7,425.5 449.7,426.0 450.7,425.6 451.7,427.4 452.7,427.8 453.7,427.3 454.7,428.1 455.7,429.4 456.7,429.3 457.7,429.8 458.7,430.7 459.7,430.4 460.7,432.0 461.7,431.3 462.7,432.0 463.7,433.0 464.7,433.4 465.7,434.4 466.7,434.5 467.7,435.8 468.7,436.3 469.7,437.3 470.7,437.1 471.7,437.6 472.7,438.7 473.7,438.9 474.7,439.8 475.7,439.9 476.7,441.1 477.7,442.0 478.7,442.7 479.7,443.2 480.7,443.2 481.7,443.6 482.7,444.5 483.7,444.8 484.7,444.5 485.7,445.4 486.7,445.4 487.7,446.4 488.7,446.8 489.7,447.1 490.7,448.3 491.7,448.6 492.7,448.0 493.7,449.0 494.7,449.3 495.7,450.2 496.7,450.7 497.7,451.0 498.7,450.3 499.7,451.9 500.7,451.4 501.7,452.0 502.7,452.5 503.7,453.6 504.7,453.1 505.7,453.4 506.7,454.9 507.7,453.9 508.7,454.6 509.7,454.9 510.7,454.8 511.7,455.1 512.7,455.0 513.7,456.1 514.7,455.5 515.7,456.1 516.7,455.8 517.7,455.4 518.7,455.7 519.7,456.6 520.7,456.0 521.7,455.5 522.7,456.8 523.7,456.5 524.7,456.6 525.7,457.2 526.7,457.4 527.7,457.6 528.7,457.2 529.7,457.3 530.7,457.9 531.7,458.6 532.7,458.6 533.7,458.7 534.7,459.4 535.7,459.7 536.7,460.5 537.7,460.4 538.7,460.3 539.7,461.4 540.7,461.3 541.7,461.2 542.7,461.4 543.7,462.4 544.7,462.6 545.7,461.5 546.7,463.0 547.7,462.5 548.7,462.8 549.7,462.9 550.7,463.6 551.7,463.2 552.7,463.5 553.7,463.8 554.7,464.5 555.7,464.1 556.7,464.6 557.7,465.5 558.7,465.3 559.7,466.2 560.7,466.1 561.7,465.5 562.7,466.2 563.7,466.5 564.7,467.2 565.7,467.4 566.7,466.4 567.7,467.8 568.7,467.6 569.7,467.7 570.7,468.3 571.7,467.7 572.7,468.3 573.7,468.6 574.7,468.8 575.7,468.6 576.7,468.7 577.7,469.3 578.7,468.5 579.7,469.3 580.7,469.6 581.7,468.8 582.7,469.9 583.7,469.0 584.7,469.1 585.7,469.8 586.7,470.5 587.7,470.7 588.7,470.3 589.7,470.7 590.7,470.0 591.7,470.7 592.7,470.1 593.7,470.4 594.7,471.4 595.7,471.5 596.7,471.4 597.7,471.1 598.7,471.8 599.7,470.9 600.7,471.4 601.7,471.7 602.7,471.0 603.7,472.1 604.7,471.5 605.7,472.5 606.7,472.6 607.7,472.4 608.7,472.6 609.7,471.9 610.7,471.8 611.7,472.1 612.7,472.2 613.7,473.0 614.7,473.0 615.7,473.0 616.7,472.9 617.7,473.1 618.7,472.7 619.7,473.3 620.7,473.5 621.7,472.8 622.7,473.6 623.7,473.4 624.7,473.3 625.7,473.3 626.7,473.9 627.7,473.2 628.7,473.0 629.7,473.0 630.7,474.2 631.7,473.9 632.7,473.6 633.7,474.0 634.7,474.6 635.7,474.9 636.7,474.2 637.7,475.2 638.7,475.5 639.7,476.0 640.7,475.5 641.7,475.7 642.7,476.9 643.7,476.7 644.7,476.7 645.7,477.7 646.7,478.8 647.7,478.7 648.7,478.9 649.7,479.8 650.7,478.4 651.7,477.8 652.7,477.0 653.7,477.6 654.7,476.9 655.7,476.7 656.7,476.4 657.7,476.8 658.7,476.7 659.7,477.8 660.7,476.8 661.7,477.8 662.7,477.5 663.7,476.9 664.7,477.3 665.7,477.6 666.7,477.7 667.7,477.7 668.7,478.3 669.7,477.7 670.7,477.8 671.7,478.6 672.7,478.4 673.7,479.1 674.7,478.7 675.7,479.4 676.7,479.8 677.7,479.2 678.7,479.3 679.7,480.2 680.7,479.6 681.7,480.4 682.7,481.2 683.7,480.7 684.7,481.7 685.7,481.5 686.7,482.5 687.7,482.7 688.7,482.0 689.7,483.6 690.7,482.9 691.7,484.2 692.7,483.9 693.7,483.6 694.7,485.0 695.7,484.9 696.7,484.7 697.7,485.7 698.7,485.0 699.7,485.3 700.7,485.8 701.7,486.1 702.7,486.1 703.7,486.7 704.7,486.5 705.7,486.9 706.7,486.2 707.7,487.5 708.7,486.6 709.7,487.6 710.7,487.6 711.7,487.3 712.7,488.5 713.7,488.5 714.7,488.1 715.7,489.1 716.7,488.4 717.7,488.6 718.7,489.2 719.7,488.8 720.7,489.3 721.7,489.8 722.7,489.5 723.7,490.1 724.7,489.9 725.7,491.4 726.7,491.3 727.7,491.0 728.7,491.9 729.7,491.6 730.7,492.4 731.7,493.3 732.7,493.3 733.7,493.2 734.7,493.7 735.7,494.2 736.7,493.4 737.7,494.3 738.7,493.4 739.7,493.9 740.7,493.3 741.7,493.8 742.7,494.4 743.7,493.7 744.7,494.1 745.7,493.7 746.7,493.1 747.7,493.7 748.7,493.3 749.7,494.1 750.7,493.4 751.7,493.1 752.7,492.0 753.7,491.9 754.7,491.1 755.7,489.8 756.7,489.3 757.7,488.1 758.7,487.7 759.7,486.5 760.7,486.8 761.7,485.5 762.7,484.9 763.7,483.9 764.7,483.4 765.7,481.3 766.7,479.8 767.7,475.8 768.7,471.6 769.7,467.8 770.7,463.8 771.7,460.9 772.7,458.2 773.7,455.6 774.7,453.4 775.7,452.6 776.7,450.9 777.7,449.8 778.7,448.6 779.7,446.9 780.7,446.9 781.7,445.5 782.7,446.1 783.7,445.8 784.7,445.8 785.7,445.4 786.7,446.4 787.7,446.6 788.7,448.8 789.7,449.8 790.7,450.5 791.7,451.9 792.7,452.9 793.7,455.0 794.7,457.2 795.7,458.0 796.7,459.5 797.7,461.4 798.7,463.8 799.7,466.1 800.7,466.6 801.7,468.8 802.7,470.3 803.7,472.3 804.7,473.8 805.7,475.3 806.7,476.7 807.7,478.2 808.7,479.1 809.7,481.0 810.7,482.0 811.7,483.5 812.7,485.1 813.7,486.9 814.7,488.2 815.7,488.8 816.7,490.8 817.7,491.2 818.7,491.2 819.7,492.0 820.7,492.2 821.7,491.7 822.7,491.8 823.7,491.5 824.7,491.2 825.7,489.7 826.7,489.7 827.7,489.0 828.7,489.4 829.7,487.8 830.7,486.6 831.7,484.4 832.7,482.3 833.7,480.3 834.7,479.3 835.7,478.3 836.7,477.4 837.7,476.8 838.7,474.7 839.7,474.4 840.7,474.5 841.7,473.8 842.7,474.3 843.7,475.3 844.7,475.9 845.7,477.6 846.7,478.0 847.7,479.7 848.7,480.0 849.7,481.5 850.7,481.6 851.7,482.8 852.7,483.7 853.7,484.5 854.7,484.5 855.7,486.4 856.7,486.0 857.7,487.6 858.7,489.3 859.7,491.8 860.7,491.4 861.7,491.5 862.7,490.7 863.7,490.1 864.7,489.6 865.7,489.4 866.7,489.5 867.7,489.8 868.7,489.5 869.7,490.2 870.7,490.5 871.7,489.9 872.7,488.5 873.7,486.5 874.7,484.2 875.7,484.0 876.7,484.8 877.7,484.9 878.7,486.0 879.7,486.9 880.7,486.4 881.7,488.2 882.7,488.9 883.7,490.8 884.7,491.6 885.7,492.3 886.7,492.9 887.7,493.5 888.7,495.0 889.7,495.8 890.7,495.6 891.7,495.8 892.7,496.0 893.7,497.3 894.7,496.7 895.7,497.6 896.7,497.8 897.7,497.6 898.7,498.7 899.7,498.3 900.7,498.4 901.7,499.1 902.7,499.1 903.7,498.5 904.7,498.0 905.7,498.1 906.7,497.0 907.7,496.3 908.7,495.7 909.7,494.0 910.7,490.9 911.7,489.0 912.7,488.0 913.7,486.8 914.7,487.8 915.7,487.9 916.7,488.1 917.7,489.2 918.7,488.8 919.7,489.5 920.7,489.9 921.7,490.3 922.7,490.7 923.7,491.0 924.7,492.0 925.7,490.7 926.7,489.9 927.7,489.3 928.7,487.5 929.7,486.1 930.7,485.0 931.7,482.6 932.7,481.6 933.7,479.2 934.7,477.5 935.7,475.5 936.7,473.8 937.7,471.9 938.7,470.4 939.7,470.2 940.7,468.4 941.7,467.0 942.7,466.2 943.7,465.9 944.7,465.2 945.7,464.6 946.7,464.4 947.7,464.8 948.7,465.4 949.7,467.6 950.7,467.7 951.7,470.7 952.7,473.4 953.7,474.7 954.7,476.2 955.7,477.1 956.7,478.0 957.7,477.8 958.7,475.7 959.7,472.6 960.7,470.1 961.7,468.4 962.7,468.1 963.7,466.3 964.7,466.6 965.7,467.6 966.7,468.9 967.7,470.3 968.7,472.1 969.7,472.7 970.7,474.7 971.7,475.1 972.7,476.3 973.7,478.3 974.7,478.5 975.7,480.8 976.7,481.7 977.7,482.8 978.7,483.6 979.7,485.3 980.7,486.7 981.7,487.7 982.7,489.2 983.7,490.0 984.7,490.9 985.7,492.0 986.7,492.8 987.7,494.0 988.7,495.3 989.7,495.9 990.7,495.7 991.7,496.6 992.7,497.4 993.7,497.3 994.7,496.6 995.7,494.5 996.7,493.6 997.7,493.0 998.7,490.8 999.7,490.8 1000.7,489.0 1001.7,488.4 1002.7,488.3 1003.7,487.9 1004.7,485.9 1005.7,485.2 1006.7,485.3 1007.7,484.7 1008.7,484.6 1009.7,484.1 1010.7,483.4 1011.7,482.9 1012.7,482.6 1013.7,482.1 1014.7,481.5 1015.7,480.2 1016.7,480.1 1017.7,479.3 1018.7,479.1 1019.7,479.0 1020.7,478.0 1021.7,477.4 1022.7,475.6 1023.7,474.8 1024.7,472.8 1025.7,471.0 1026.7,470.1 1027.7,467.1 1028.7,464.7 1029.7,459.5 1030.7,454.7 1031.7,451.3 1032.7,445.2 1033.7,441.3 1034.7,436.7 1035.7,435.0" fill="none" stroke="#0000FF" stroke-width="5.3" stroke-linejoin="round" stroke-linecap="round"/>
<polyline points="171.7,400.4 172.7,401.0 173.7,399.9 174.7,401.0 175.7,401.2 176.7,401.2 177.7,400.2 178.7,400.4 179.7,400.7 180.7,400.4 181.7,400.5 182.7,399.1 183.7,399.6 184.7,399.1 185.7,400.7 186.7,399.6 187.7,400.2 188.7,399.3 189.7,399.5 190.7,398.7 191.7,399.4 192.7,400.5 193.7,399.0 194.7,399.2 195.7,400.3 196.7,398.5 197.7,398.5 198.7,399.6 199.7,400.0 200.7,398.2 201.7,399.7 202.7,399.7 203.7,398.2 204.7,399.3 205.7,399.0 206.7,398.8 207.7,399.7 208.7,397.8 209.7,398.2 210.7,399.1 211.7,398.2 212.7,398.0 213.7,398.8 214.7,399.2 215.7,397.8 216.7,398.1 217.7,397.6 218.7,397.8 219.7,398.2 220.7,398.5 221.7,397.0 222.7,398.1 223.7,397.8 224.7,396.9 225.7,396.7 226.7,396.9 227.7,396.6 228.7,398.1 229.7,397.5 230.7,396.5 231.7,397.1 232.7,397.0 233.7,395.9 234.7,397.3 235.7,396.4 236.7,395.8 237.7,395.8 238.7,396.3 239.7,396.6 240.7,397.0 241.7,396.7 242.7,395.8 243.7,394.8 244.7,396.3 245.7,395.0 246.7,394.6 247.7,395.7 248.7,394.0 249.7,394.0 250.7,394.4 251.7,394.0 252.7,394.4 253.7,392.8 254.7,391.6 255.7,392.2 256.7,390.4 257.7,389.6 258.7,389.3 259.7,388.4 260.7,388.8 261.7,386.3 262.7,386.7 263.7,385.3 264.7,383.1 265.7,382.0 266.7,382.6 267.7,379.8 268.7,378.5 269.7,377.7 270.7,377.2 271.7,375.9 272.7,375.0 273.7,374.2 274.7,372.1 275.7,370.8 276.7,370.5 277.7,368.4 278.7,367.9 279.7,365.9 280.7,364.8 281.7,363.4 282.7,363.1 283.7,361.0 284.7,359.7 285.7,358.6 286.7,357.5 287.7,355.9 288.7,354.9 289.7,354.2 290.7,353.0 291.7,350.9 292.7,350.1 293.7,349.2 294.7,347.3 295.7,345.8 296.7,343.9 297.7,343.8 298.7,342.4 299.7,340.1 300.7,338.9 301.7,338.6 302.7,337.0 303.7,335.5 304.7,334.0 305.7,332.7 306.7,332.0 307.7,331.0 308.7,330.1 309.7,328.6 310.7,326.9 311.7,326.2 312.7,324.2 313.7,323.9 314.7,323.1 315.7,321.2 316.7,321.0 317.7,319.9 318.7,319.3 319.7,318.6 320.7,318.0 321.7,317.1 322.7,317.3 323.7,315.8 324.7,316.0 325.7,314.9 326.7,314.9 327.7,314.2 328.7,314.0 329.7,313.9 330.7,313.1 331.7,312.8 332.7,313.6 333.7,312.8 334.7,312.3 335.7,313.0 336.7,313.0 337.7,312.7 338.7,312.4 339.7,311.4 340.7,312.4 341.7,311.8 342.7,312.1 343.7,311.5 344.7,310.6 345.7,311.9 346.7,310.6 347.7,311.3 348.7,310.6 349.7,310.3 350.7,310.1 351.7,310.8 352.7,310.1 353.7,310.5 354.7,310.8 355.7,309.7 356.7,309.5 357.7,309.7 358.7,310.1 359.7,310.3 360.7,309.2 361.7,309.5 362.7,309.2 363.7,309.1 364.7,309.2 365.7,309.9 366.7,308.9 367.7,310.0 368.7,309.9 369.7,309.7 370.7,309.2 371.7,309.0 372.7,310.1 373.7,308.9 374.7,309.5 375.7,309.3 376.7,309.1 377.7,310.2 378.7,309.2 379.7,309.9 380.7,310.2 381.7,309.9 382.7,309.2 383.7,310.2 384.7,309.5 385.7,310.7 386.7,309.7 387.7,310.8 388.7,311.1 389.7,311.3 390.7,311.3 391.7,311.9 392.7,313.0 393.7,313.8 394.7,314.2 395.7,314.3 396.7,314.1 397.7,315.2 398.7,315.0 399.7,315.4 400.7,316.6 401.7,317.0 402.7,316.9 403.7,317.2 404.7,317.7 405.7,318.7 406.7,319.7 407.7,319.6 408.7,320.5 409.7,320.5 410.7,321.2 411.7,322.3 412.7,322.6 413.7,323.7 414.7,324.3 415.7,324.1 416.7,324.4 417.7,325.9 418.7,326.8 419.7,327.5 420.7,327.0 421.7,327.8 422.7,328.5 423.7,329.4 424.7,330.1 425.7,330.5 426.7,331.7 427.7,333.2 428.7,332.9 429.7,334.6 430.7,334.3 431.7,335.1 432.7,336.4 433.7,337.9 434.7,337.6 435.7,339.4 436.7,338.8 437.7,340.7 438.7,340.9 439.7,341.9 440.7,342.2 441.7,342.5 442.7,344.0 443.7,343.9 444.7,345.1 445.7,346.1 446.7,346.6 447.7,346.6 448.7,346.7 449.7,348.0 450.7,347.4 451.7,349.1 452.7,349.1 453.7,348.8 454.7,350.0 455.7,350.4 456.7,350.4 457.7,351.4 458.7,350.9 459.7,351.5 460.7,352.2 461.7,352.0 462.7,352.3 463.7,352.7 464.7,352.3 465.7,352.6 466.7,352.6 467.7,353.6 468.7,353.3 469.7,353.1 470.7,353.9 471.7,353.1 472.7,354.2 473.7,353.8 474.7,354.1 475.7,353.9 476.7,354.0 477.7,354.2 478.7,354.6 479.7,355.1 480.7,354.6 481.7,355.4 482.7,355.7 483.7,356.4 484.7,357.1 485.7,357.5 486.7,358.3 487.7,358.2 488.7,358.5 489.7,360.2 490.7,360.8 491.7,361.6 492.7,361.4 493.7,362.4 494.7,362.9 495.7,363.8 496.7,364.8 497.7,365.3 498.7,365.8 499.7,366.0 500.7,366.4 501.7,367.3 502.7,368.3 503.7,368.1 504.7,368.4 505.7,369.0 506.7,369.6 507.7,370.6 508.7,370.9 509.7,372.2 510.7,371.6 511.7,372.3 512.7,372.1 513.7,372.5 514.7,374.0 515.7,374.2 516.7,373.7 517.7,375.2 518.7,375.2 519.7,375.7 520.7,377.6 521.7,376.8 522.7,377.1 523.7,378.5 524.7,378.6 525.7,377.9 526.7,379.0 527.7,379.0 528.7,379.9 529.7,379.7 530.7,380.0 531.7,380.0 532.7,379.5 533.7,380.2 534.7,380.3 535.7,380.8 536.7,380.8 537.7,381.5 538.7,380.6 539.7,380.6 540.7,381.3 541.7,380.9 542.7,381.8 543.7,381.2 544.7,381.3 545.7,381.9 546.7,382.1 547.7,382.0 548.7,381.8 549.7,381.7 550.7,382.5 551.7,382.0 552.7,382.4 553.7,381.4 554.7,382.3 555.7,382.2 556.7,381.4 557.7,382.5 558.7,382.6 559.7,381.5 560.7,381.5 561.7,381.3 562.7,381.9 563.7,382.4 564.7,382.2 565.7,381.5 566.7,382.6 567.7,381.8 568.7,382.0 569.7,381.9 570.7,382.1 571.7,382.2 572.7,382.3 573.7,382.8 574.7,383.0 575.7,382.9 576.7,383.2 577.7,382.6 578.7,382.7 579.7,383.8 580.7,384.1 581.7,383.6 582.7,383.7 583.7,384.1 584.7,385.0 585.7,385.5 586.7,386.0 587.7,386.1 588.7,387.3 589.7,389.2 590.7,390.3 591.7,392.1 592.7,394.9 593.7,395.6 594.7,398.1 595.7,399.1 596.7,399.3 597.7,398.7 598.7,399.1 599.7,397.6 600.7,396.7 601.7,396.1 602.7,394.3 603.7,393.3 604.7,392.3 605.7,392.2 606.7,392.1 607.7,391.0 608.7,390.9 609.7,390.4 610.7,390.2 611.7,388.9 612.7,388.5 613.7,388.5 614.7,388.1 615.7,388.4 616.7,388.9 617.7,389.1 618.7,389.0 619.7,389.4 620.7,389.2 621.7,389.4 622.7,388.3 623.7,388.6 624.7,388.7 625.7,389.8 626.7,389.0 627.7,389.0 628.7,388.9 629.7,389.6 630.7,389.2 631.7,390.0 632.7,389.6 633.7,390.2 634.7,390.5 635.7,390.3 636.7,389.6 637.7,390.0 638.7,390.3 639.7,391.3 640.7,390.7 641.7,392.1 642.7,391.7 643.7,392.5 644.7,392.3 645.7,393.4 646.7,393.1 647.7,393.0 648.7,394.0 649.7,394.0 650.7,394.1 651.7,393.4 652.7,393.3 653.7,393.3 654.7,393.5 655.7,392.6 656.7,393.3 657.7,392.7 658.7,393.0 659.7,392.7 660.7,393.1 661.7,392.3 662.7,391.9 663.7,393.0 664.7,392.1 665.7,392.6 666.7,392.7 667.7,392.5 668.7,393.7 669.7,393.7 670.7,393.5 671.7,393.7 672.7,393.7 673.7,393.4 674.7,393.5 675.7,394.4 676.7,393.7 677.7,394.4 678.7,395.2 679.7,395.2 680.7,394.4 681.7,394.9 682.7,395.4 683.7,395.2 684.7,396.2 685.7,395.8 686.7,396.0 687.7,396.4 688.7,397.3 689.7,397.5 690.7,397.5 691.7,398.2 692.7,397.6 693.7,397.8 694.7,399.1 695.7,398.4 696.7,398.3 697.7,398.4 698.7,399.5 699.7,398.9 700.7,399.2 701.7,398.8 702.7,398.9 703.7,399.5 704.7,399.8 705.7,399.4 706.7,398.7 707.7,399.4 708.7,399.3 709.7,399.8 710.7,399.9 711.7,399.4 712.7,399.3 713.7,399.6 714.7,400.0 715.7,399.2 716.7,399.6 717.7,399.8 718.7,399.9 719.7,399.1 720.7,399.4 721.7,399.2 722.7,399.8 723.7,399.7 724.7,400.0 725.7,399.9 726.7,399.1 727.7,399.6 728.7,398.9 729.7,399.9 730.7,399.2 731.7,399.9 732.7,399.9 733.7,399.3 734.7,399.7 735.7,400.1 736.7,399.5 737.7,399.4 738.7,399.8 739.7,399.8 740.7,400.0 741.7,399.3 742.7,399.7 743.7,400.0 744.7,399.5 745.7,399.1 746.7,398.7 747.7,399.7 748.7,399.9 749.7,399.5 750.7,399.6 751.7,399.7 752.7,398.7 753.7,398.0 754.7,398.1 755.7,398.2 756.7,397.8 757.7,397.2 758.7,397.8 759.7,397.3 760.7,395.7 761.7,395.3 762.7,395.0 763.7,392.9 764.7,392.2 765.7,390.4 766.7,387.4 767.7,384.8 768.7,382.8 769.7,380.8 770.7,376.8 771.7,371.4 772.7,367.5 773.7,361.6 774.7,357.4 775.7,355.2 776.7,353.7 777.7,351.5 778.7,350.4 779.7,349.5 780.7,349.0 781.7,348.6 782.7,348.8 783.7,349.0 784.7,348.3 785.7,348.8 786.7,349.0 787.7,348.6 788.7,349.1 789.7,348.8 790.7,349.1 791.7,348.2 792.7,347.9 793.7,346.8 794.7,345.5 795.7,345.1 796.7,343.8 797.7,343.1 798.7,344.0 799.7,345.5 800.7,346.6 801.7,349.4 802.7,350.8 803.7,353.5 804.7,354.7 805.7,357.0 806.7,359.5 807.7,362.9 808.7,365.8 809.7,368.4 810.7,371.1 811.7,372.5 812.7,375.1 813.7,377.1 814.7,379.0 815.7,381.3 816.7,382.0 817.7,383.0 818.7,383.3 819.7,382.8 820.7,381.7 821.7,381.4 822.7,381.7 823.7,374.1 824.7,364.6 825.7,362.6 826.7,361.9 827.7,361.4 828.7,370.5 829.7,378.9 830.7,380.4 831.7,379.5 832.7,380.1 833.7,380.2 834.7,380.5 835.7,380.4 836.7,380.6 837.7,380.5 838.7,381.6 839.7,380.6 840.7,380.6 841.7,381.2 842.7,380.7 843.7,380.9 844.7,380.2 845.7,379.2 846.7,379.1 847.7,379.1 848.7,379.2 849.7,380.0 850.7,380.3 851.7,381.4 852.7,382.4 853.7,382.6 854.7,384.0 855.7,385.3 856.7,384.9 857.7,385.4 858.7,386.5 859.7,386.7 860.7,387.2 861.7,387.9 862.7,389.1 863.7,389.1 864.7,390.5 865.7,391.9 866.7,391.9 867.7,392.2 868.7,393.9 869.7,393.9 870.7,394.1 871.7,394.7 872.7,395.3 873.7,396.0 874.7,396.1 875.7,397.2 876.7,397.6 877.7,397.7 878.7,397.3 879.7,395.8 880.7,395.9 881.7,394.9 882.7,396.0 883.7,395.5 884.7,396.0 885.7,395.4 886.7,396.0 887.7,396.4 888.7,395.7 889.7,395.8 890.7,396.3 891.7,395.6 892.7,396.5 893.7,396.3 894.7,397.2 895.7,396.0 896.7,396.2 897.7,397.2 898.7,396.6 899.7,397.4 900.7,397.2 901.7,397.1 902.7,397.2 903.7,396.3 904.7,395.9 905.7,395.5 906.7,394.9 907.7,393.4 908.7,392.9 909.7,392.6 910.7,392.0 911.7,390.7 912.7,389.7 913.7,388.7 914.7,387.6 915.7,387.0 916.7,385.2 917.7,385.2 918.7,384.0 919.7,382.3 920.7,381.7 921.7,379.3 922.7,379.0 923.7,377.5 924.7,375.3 925.7,374.4 926.7,372.1 927.7,370.3 928.7,368.0 929.7,366.8 930.7,364.4 931.7,361.1 932.7,359.1 933.7,355.8 934.7,352.5 935.7,348.6 936.7,345.4 937.7,341.4 938.7,336.7 939.7,331.0 940.7,327.1 941.7,324.2 942.7,321.4 943.7,320.6 944.7,321.7 945.7,323.6 946.7,326.1 947.7,329.0 948.7,330.5 949.7,332.7 950.7,333.8 951.7,335.4 952.7,336.6 953.7,338.8 954.7,340.2 955.7,341.6 956.7,341.6 957.7,342.5 958.7,340.8 959.7,339.5 960.7,337.8 961.7,336.5 962.7,334.8 963.7,333.5 964.7,332.4 965.7,330.5 966.7,330.4 967.7,329.8 968.7,331.0 969.7,331.4 970.7,332.1 971.7,333.3 972.7,334.5 973.7,337.6 974.7,340.9 975.7,344.6 976.7,347.7 977.7,351.4 978.7,355.3 979.7,359.1 980.7,362.5 981.7,367.3 982.7,369.8 983.7,373.2 984.7,376.7 985.7,378.9 986.7,381.5 987.7,385.1 988.7,387.6 989.7,390.0 990.7,392.7 991.7,394.7 992.7,397.6 993.7,399.8 994.7,401.0 995.7,402.3 996.7,403.9 997.7,405.3 998.7,406.2 999.7,404.7 1000.7,405.0 1001.7,402.8 1002.7,403.1 1003.7,401.3 1004.7,401.0 1005.7,399.8 1006.7,399.6 1007.7,399.4 1008.7,398.3 1009.7,398.2 1010.7,397.2 1011.7,397.1 1012.7,396.4 1013.7,396.0 1014.7,396.2 1015.7,394.8 1016.7,395.3 1017.7,394.9 1018.7,393.8 1019.7,393.6 1020.7,394.2 1021.7,393.3 1022.7,393.3 1023.7,393.8 1024.7,392.8 1025.7,393.4 1026.7,392.0 1027.7,392.4 1028.7,391.5 1029.7,391.5 1030.7,391.5 1031.7,390.6 1032.7,390.8 1033.7,389.6 1034.7,389.8 1035.7,389.5" fill="none" stroke="#FF8C0C" stroke-width="5.3" stroke-linejoin="round" stroke-linecap="round"/>
<polyline points="171.7,272.8 172.7,272.7 173.7,273.3 174.7,273.5 175.7,271.3 176.7,272.0 177.7,273.5 178.7,272.3 179.7,271.8 180.7,272.3 181.7,271.5 182.7,272.8 183.7,271.6 184.7,272.0 185.7,270.7 186.7,272.3 187.7,271.1 188.7,272.8 189.7,271.4 190.7,272.2 191.7,272.2 192.7,272.4 193.7,270.6 194.7,271.0 195.7,271.3 196.7,271.8 197.7,270.7 198.7,271.8 199.7,271.6 200.7,270.4 201.7,270.7 202.7,272.1 203.7,270.1 204.7,271.6 205.7,270.0 206.7,271.6 207.7,271.6 208.7,270.7 209.7,272.1 210.7,270.8 211.7,270.2 212.7,270.5 213.7,271.4 214.7,270.5 215.7,269.7 216.7,270.4 217.7,272.0 218.7,270.3 219.7,270.7 220.7,271.3 221.7,271.8 222.7,269.9 223.7,270.0 224.7,269.7 225.7,269.9 226.7,271.8 227.7,269.9 228.7,269.6 229.7,270.5 230.7,270.3 231.7,270.9 232.7,270.5 233.7,270.4 234.7,269.1 235.7,269.9 236.7,268.7 237.7,268.6 238.7,269.1 239.7,268.9 240.7,269.4 241.7,267.6 242.7,267.9 243.7,267.5 244.7,268.1 245.7,268.1 246.7,268.1 247.7,266.9 248.7,267.3 249.7,267.3 250.7,266.3 251.7,267.3 252.7,266.4 253.7,265.8 254.7,267.9 255.7,265.6 256.7,267.0 257.7,266.3 258.7,265.0 259.7,265.7 260.7,265.0 261.7,264.7 262.7,264.9 263.7,264.3 264.7,262.7 265.7,261.1 266.7,260.4 267.7,260.3 268.7,259.1 269.7,257.1 270.7,257.5 271.7,257.2 272.7,255.3 273.7,254.8 274.7,253.5 275.7,253.9 276.7,252.2 277.7,251.2 278.7,250.4 279.7,249.8 280.7,248.5 281.7,248.9 282.7,248.2 283.7,247.5 284.7,245.7 285.7,245.2 286.7,244.8 287.7,243.9 288.7,242.4 289.7,241.8 290.7,241.8 291.7,240.7 292.7,238.8 293.7,238.1 294.7,238.4 295.7,236.8 296.7,235.6 297.7,235.0 298.7,234.4 299.7,234.1 300.7,232.4 301.7,232.8 302.7,231.4 303.7,230.8 304.7,229.6 305.7,229.2 306.7,229.6 307.7,228.2 308.7,227.0 309.7,227.0 310.7,226.5 311.7,226.3 312.7,225.0 313.7,225.3 314.7,223.5 315.7,223.6 316.7,222.9 317.7,222.3 318.7,222.4 319.7,221.2 320.7,221.5 321.7,221.2 322.7,221.3 323.7,220.3 324.7,219.8 325.7,219.5 326.7,220.5 327.7,219.4 328.7,220.0 329.7,219.6 330.7,218.7 331.7,218.5 332.7,218.8 333.7,219.2 334.7,218.9 335.7,218.4 336.7,218.5 337.7,218.1 338.7,218.8 339.7,218.0 340.7,218.9 341.7,218.3 342.7,219.1 343.7,219.3 344.7,219.8 345.7,219.5 346.7,219.8 347.7,219.8 348.7,219.5 349.7,219.8 350.7,220.1 351.7,220.1 352.7,220.6 353.7,220.4 354.7,221.4 355.7,221.0 356.7,220.9 357.7,221.9 358.7,220.8 359.7,221.3 360.7,221.5 361.7,222.2 362.7,222.0 363.7,222.4 364.7,222.2 365.7,222.1 366.7,222.2 367.7,222.6 368.7,223.1 369.7,222.9 370.7,224.5 371.7,223.7 372.7,224.0 373.7,224.7 374.7,225.2 375.7,225.8 376.7,225.9 377.7,227.0 378.7,228.0 379.7,227.6 380.7,229.1 381.7,228.8 382.7,230.8 383.7,230.8 384.7,231.8 385.7,232.4 386.7,233.9 387.7,234.1 388.7,235.0 389.7,235.6 390.7,237.7 391.7,237.5 392.7,238.4 393.7,240.4 394.7,241.7 395.7,241.2 396.7,242.4 397.7,243.0 398.7,244.4 399.7,245.5 400.7,246.8 401.7,247.1 402.7,248.5 403.7,248.8 404.7,249.8 405.7,250.7 406.7,251.2 407.7,252.2 408.7,254.1 409.7,253.5 410.7,255.2 411.7,255.2 412.7,256.6 413.7,256.9 414.7,257.4 415.7,258.9 416.7,259.6 417.7,260.7 418.7,260.8 419.7,262.6 420.7,262.5 421.7,263.6 422.7,264.3 423.7,265.4 424.7,265.7 425.7,265.7 426.7,267.2 427.7,268.2 428.7,268.7 429.7,268.4 430.7,268.7 431.7,269.1 432.7,268.3 433.7,268.2 434.7,268.9 435.7,268.9 436.7,268.7 437.7,268.6 438.7,267.3 439.7,267.6 440.7,267.0 441.7,266.5 442.7,265.8 443.7,265.6 444.7,265.4 445.7,264.8 446.7,265.4 447.7,265.7 448.7,266.2 449.7,267.3 450.7,267.3 451.7,267.1 452.7,267.4 453.7,268.4 454.7,267.1 455.7,267.4 456.7,267.5 457.7,267.5 458.7,268.0 459.7,266.9 460.7,266.7 461.7,267.4 462.7,267.5 463.7,266.1 464.7,267.6 465.7,267.3 466.7,266.7 467.7,266.8 468.7,267.0 469.7,268.2 470.7,268.1 471.7,268.8 472.7,268.6 473.7,270.2 474.7,270.0 475.7,270.7 476.7,270.2 477.7,271.4 478.7,270.9 479.7,271.1 480.7,272.1 481.7,271.7 482.7,272.8 483.7,272.4 484.7,272.2 485.7,273.1 486.7,273.8 487.7,273.0 488.7,273.3 489.7,274.3 490.7,275.0 491.7,273.8 492.7,275.2 493.7,274.4 494.7,274.9 495.7,274.7 496.7,275.3 497.7,275.1 498.7,274.4 499.7,274.3 500.7,274.7 501.7,274.5 502.7,274.2 503.7,274.7 504.7,274.6 505.7,275.0 506.7,275.5 507.7,274.8 508.7,275.5 509.7,275.3 510.7,274.5 511.7,274.8 512.7,275.4 513.7,274.5 514.7,274.3 515.7,275.5 516.7,274.4 517.7,275.4 518.7,274.1 519.7,274.2 520.7,275.2 521.7,275.5 522.7,274.4 523.7,274.6 524.7,274.7 525.7,274.7 526.7,275.0 527.7,275.5 528.7,275.0 529.7,275.4 530.7,274.8 531.7,274.0 532.7,274.6 533.7,275.0 534.7,274.7 535.7,274.6 536.7,273.9 537.7,274.8 538.7,274.3 539.7,274.9 540.7,275.2 541.7,274.7 542.7,274.2 543.7,274.6 544.7,273.8 545.7,274.3 546.7,274.6 547.7,273.8 548.7,273.7 549.7,273.4 550.7,273.1 551.7,273.7 552.7,272.2 553.7,271.9 554.7,272.6 555.7,272.6 556.7,271.7 557.7,272.1 558.7,271.7 559.7,271.6 560.7,271.6 561.7,271.1 562.7,270.6 563.7,271.3 564.7,269.9 565.7,270.3 566.7,270.1 567.7,269.4 568.7,270.7 569.7,269.1 570.7,270.2 571.7,270.1 572.7,268.8 573.7,269.1 574.7,268.8 575.7,269.8 576.7,269.3 577.7,268.5 578.7,268.8 579.7,269.4 580.7,269.5 581.7,268.4 582.7,268.5 583.7,268.1 584.7,268.0 585.7,268.5 586.7,268.4 587.7,269.2 588.7,268.3 589.7,269.6 590.7,270.7 591.7,271.3 592.7,270.3 593.7,267.6 594.7,266.8 595.7,265.4 596.7,265.5 597.7,267.5 598.7,267.6 599.7,269.2 600.7,269.8 601.7,269.4 602.7,268.5 603.7,268.5 604.7,268.4 605.7,268.0 606.7,266.5 607.7,267.8 608.7,267.8 609.7,266.5 610.7,267.1 611.7,266.7 612.7,267.0 613.7,266.7 614.7,267.5 615.7,267.6 616.7,266.9 617.7,266.8 618.7,266.7 619.7,266.4 620.7,267.2 621.7,267.6 622.7,266.7 623.7,266.2 624.7,267.0 625.7,266.0 626.7,266.5 627.7,266.4 628.7,266.4 629.7,265.8 630.7,266.3 631.7,265.4 632.7,265.9 633.7,266.3 634.7,265.1 635.7,264.8 636.7,265.2 637.7,264.4 638.7,265.1 639.7,265.5 640.7,264.9 641.7,265.1 642.7,264.3 643.7,264.4 644.7,264.2 645.7,264.3 646.7,265.1 647.7,265.1 648.7,264.2 649.7,265.2 650.7,264.7 651.7,265.0 652.7,264.4 653.7,265.4 654.7,265.6 655.7,264.8 656.7,264.8 657.7,265.8 658.7,266.1 659.7,265.3 660.7,266.8 661.7,265.4 662.7,266.9 663.7,265.6 664.7,266.8 665.7,267.1 666.7,266.2 667.7,266.1 668.7,266.9 669.7,267.6 670.7,266.4 671.7,267.7 672.7,267.0 673.7,266.9 674.7,267.7 675.7,267.5 676.7,267.1 677.7,268.0 678.7,267.8 679.7,267.6 680.7,267.2 681.7,268.3 682.7,268.6 683.7,268.1 684.7,268.6 685.7,267.6 686.7,267.8 687.7,268.4 688.7,268.6 689.7,267.6 690.7,267.4 691.7,268.6 692.7,267.6 693.7,268.5 694.7,267.8 695.7,269.5 696.7,270.4 697.7,271.5 698.7,271.7 699.7,271.0 700.7,271.2 701.7,270.2 702.7,270.4 703.7,270.2 704.7,271.2 705.7,269.7 706.7,270.0 707.7,270.0 708.7,271.2 709.7,270.9 710.7,270.3 711.7,270.5 712.7,269.7 713.7,270.6 714.7,270.2 715.7,270.3 716.7,269.9 717.7,270.4 718.7,270.8 719.7,270.9 720.7,270.0 721.7,270.7 722.7,270.4 723.7,270.9 724.7,271.6 725.7,270.6 726.7,271.1 727.7,270.5 728.7,271.0 729.7,270.8 730.7,271.0 731.7,270.5 732.7,270.4 733.7,271.4 734.7,271.0 735.7,271.8 736.7,271.2 737.7,271.7 738.7,271.9 739.7,270.7 740.7,271.2 741.7,271.1 742.7,270.8 743.7,271.0 744.7,270.7 745.7,270.3 746.7,271.6 747.7,271.0 748.7,270.6 749.7,270.4 750.7,270.3 751.7,271.0 752.7,269.8 753.7,269.7 754.7,270.9 755.7,270.1 756.7,269.8 757.7,269.4 758.7,268.7 759.7,268.8 760.7,269.0 761.7,267.7 762.7,266.6 763.7,267.0 764.7,266.1 765.7,264.5 766.7,264.6 767.7,262.5 768.7,261.9 769.7,261.1 770.7,259.5 771.7,259.1 772.7,256.9 773.7,256.1 774.7,255.7 775.7,255.7 776.7,253.6 777.7,252.6 778.7,251.8 779.7,252.2 780.7,251.0 781.7,250.7 782.7,249.5 783.7,249.7 784.7,250.2 785.7,250.5 786.7,250.7 787.7,252.2 788.7,254.8 789.7,255.6 790.7,257.0 791.7,259.1 792.7,260.0 793.7,261.3 794.7,262.8 795.7,264.1 796.7,266.3 797.7,267.2 798.7,267.4 799.7,268.1 800.7,268.0 801.7,268.3 802.7,268.3 803.7,268.9 804.7,268.6 805.7,268.3 806.7,269.7 807.7,269.3 808.7,269.5 809.7,268.9 810.7,269.7 811.7,269.0 812.7,268.6 813.7,268.3 814.7,268.7 815.7,268.2 816.7,267.7 817.7,268.4 818.7,266.9 819.7,266.2 820.7,266.7 821.7,266.0 822.7,264.9 823.7,263.7 824.7,262.7 825.7,261.2 826.7,259.2 827.7,257.7 828.7,257.5 829.7,257.2 830.7,256.7 831.7,257.2 832.7,257.3 833.7,255.6 834.7,256.1 835.7,256.8 836.7,256.5 837.7,255.7 838.7,255.7 839.7,257.6 840.7,259.5 841.7,261.0 842.7,262.9 843.7,262.9 844.7,264.3 845.7,265.5 846.7,266.1 847.7,267.2 848.7,269.1 849.7,269.3 850.7,270.1 851.7,269.5 852.7,269.1 853.7,269.4 854.7,270.2 855.7,269.7 856.7,270.9 857.7,270.1 858.7,271.1 859.7,270.7 860.7,270.4 861.7,270.4 862.7,270.4 863.7,270.4 864.7,270.4 865.7,270.4 866.7,270.4 867.7,270.4 868.7,270.4 869.7,270.4 870.7,270.3 871.7,269.7 872.7,269.0 873.7,268.6 874.7,268.7 875.7,269.2 876.7,269.7 877.7,270.2 878.7,270.4 879.7,270.5 880.7,270.6 881.7,270.7 882.7,270.7 883.7,270.8 884.7,270.8 885.7,271.0 886.7,271.4 887.7,272.0 888.7,272.2 889.7,271.7 890.7,270.4 891.7,268.7 892.7,266.7 893.7,264.7 894.7,262.6 895.7,260.2 896.7,257.4 897.7,254.3 898.7,251.1 899.7,247.9 900.7,244.8 901.7,241.8 902.7,239.1 903.7,236.5 904.7,233.9 905.7,231.4 906.7,229.0 907.7,226.6 908.7,224.2 909.7,221.9 910.7,219.8 911.7,217.6 912.7,215.8 913.7,214.2 914.7,212.8 915.7,211.6 916.7,210.3 917.7,208.9 918.7,207.3 919.7,205.5 920.7,203.2 921.7,200.5 922.7,197.2 923.7,189.7 924.7,179.5 925.7,170.9 926.7,163.1 927.7,155.8 928.7,149.6 929.7,145.0 930.7,141.2 931.7,138.0 932.7,134.7 933.7,131.2 934.7,126.8 935.7,122.3 936.7,118.4 937.7,115.9 938.7,114.0 939.7,112.6 940.7,112.3 941.7,113.5 942.7,115.8 943.7,118.7 944.7,123.0 945.7,129.3 946.7,136.3 947.7,142.6 948.7,148.9 949.7,155.0 950.7,160.8 951.7,166.3 952.7,171.6 953.7,175.4 954.7,177.4 955.7,178.9 956.7,179.4 957.7,178.6 958.7,176.9 959.7,174.8 960.7,172.6 961.7,170.7 962.7,169.5 963.7,168.3 964.7,167.2 965.7,166.4 966.7,166.1 967.7,166.2 968.7,166.2 969.7,166.4 970.7,166.6 971.7,167.9 972.7,170.1 973.7,172.8 974.7,176.1 975.7,181.0 976.7,186.6 977.7,192.1 978.7,197.0 979.7,201.8 980.7,206.8 981.7,212.3 982.7,218.5 983.7,225.1 984.7,231.9 985.7,238.8 986.7,246.3 987.7,253.5 988.7,259.9 989.7,265.5 990.7,270.5 991.7,273.5 992.7,275.4 993.7,276.8 994.7,277.7 995.7,277.7 996.7,277.3 997.7,276.7 998.7,276.0 999.7,275.3 1000.7,274.3 1001.7,273.2 1002.7,272.5 1003.7,272.2 1004.7,272.2 1005.7,272.2 1006.7,272.2 1007.7,272.2 1008.7,272.2 1009.7,272.2 1010.7,272.2 1011.7,272.2 1012.7,272.2 1013.7,272.4 1014.7,272.8 1015.7,273.3 1016.7,273.8 1017.7,274.0 1018.7,274.1 1019.7,274.1 1020.7,274.1 1021.7,274.1 1022.7,274.1 1023.7,274.1 1024.7,274.1 1025.7,274.1 1026.7,273.8 1027.7,273.2 1028.7,272.3 1029.7,271.4 1030.7,270.6 1031.7,270.0 1032.7,269.5 1033.7,268.9 1034.7,268.4 1035.7,267.9" fill="none" stroke="#07840A" stroke-width="5.3" stroke-linejoin="round" stroke-linecap="round"/>
<line x1="171.7" y1="711.4" x2="171.7" y2="726.9" stroke="#000" stroke-width="4.8"/>
<line x1="430.4" y1="711.4" x2="430.4" y2="726.9" stroke="#000" stroke-width="4.8"/>
<line x1="689.6" y1="711.4" x2="689.6" y2="726.9" stroke="#000" stroke-width="4.8"/>
<line x1="948.8" y1="711.4" x2="948.8" y2="726.9" stroke="#000" stroke-width="4.8"/>
<line x1="301" y1="711.4" x2="301" y2="720.9" stroke="#000" stroke-width="3.8"/>
<line x1="560" y1="711.4" x2="560" y2="720.9" stroke="#000" stroke-width="3.8"/>
<line x1="819.2" y1="711.4" x2="819.2" y2="720.9" stroke="#000" stroke-width="3.8"/>
<text x="114.5" y="771.2" font-size="45.5" font-weight="bold" textLength="108.0" lengthAdjust="spacingAndGlyphs">4000</text>
<text x="375.5" y="771.2" font-size="45.5" font-weight="bold" textLength="105.0" lengthAdjust="spacingAndGlyphs">3000</text>
<text x="633" y="771.2" font-size="45.5" font-weight="bold" textLength="109" lengthAdjust="spacingAndGlyphs">2000</text>
<text x="894.5" y="771.2" font-size="45.5" font-weight="bold" textLength="106.5" lengthAdjust="spacingAndGlyphs">1000</text>
<text x="345.5" y="832" font-size="49.5" font-weight="bold" textLength="516" lengthAdjust="spacingAndGlyphs">Wavenummber (cm<tspan font-size="31" dy="-12.5"> −1</tspan><tspan dy="12.5">)</tspan></text>
<text transform="translate(130,614) rotate(-90)" font-size="50" font-weight="bold" textLength="423" lengthAdjust="spacingAndGlyphs">Absorbance (a.u.)</text>
<text x="9.3" y="67.5" font-size="71" font-weight="bold" textLength="90.5" lengthAdjust="spacingAndGlyphs">(b)</text>
<text x="329" y="59.3" font-family="Liberation Serif, serif" font-style="italic" font-weight="bold" font-size="29" textLength="13" lengthAdjust="spacingAndGlyphs">ν</text><text x="340" y="70.0" font-style="italic" font-size="24" stroke="#000" stroke-width="0.45" textLength="41" lengthAdjust="spacingAndGlyphs">O-H</text><text x="432" y="59.3" font-family="Liberation Serif, serif" font-style="italic" font-weight="bold" font-size="29" textLength="13" lengthAdjust="spacingAndGlyphs">ν</text><text x="445" y="70.0" font-style="italic" font-size="24" stroke="#000" stroke-width="0.45" textLength="38" lengthAdjust="spacingAndGlyphs">C-H</text><text x="753.5" y="60.3" font-family="Liberation Serif, serif" font-style="italic" font-size="30.5" stroke="#000" stroke-width="0.8" textLength="15.5" lengthAdjust="spacingAndGlyphs">δ</text><text x="766" y="71.0" font-style="italic" font-size="24" stroke="#000" stroke-width="0.45" textLength="40.7" lengthAdjust="spacingAndGlyphs">O-H</text><text x="810.3" y="59.3" font-family="Liberation Serif, serif" font-style="italic" font-weight="bold" font-size="29" textLength="12.5" lengthAdjust="spacingAndGlyphs">ν</text><text x="824" y="70.0" font-style="italic" font-size="24" stroke="#000" stroke-width="0.45" textLength="66.6" lengthAdjust="spacingAndGlyphs">Ti-O-Ti</text><text x="899.3" y="60.3" font-family="Liberation Serif, serif" font-style="italic" font-size="30.5" stroke="#000" stroke-width="0.8" textLength="15" lengthAdjust="spacingAndGlyphs">δ</text><text x="912.8" y="71.0" font-style="italic" font-size="24" stroke="#000" stroke-width="0.45" textLength="71.6" lengthAdjust="spacingAndGlyphs">Si-O-Si</text>
<line x1="197.3" y1="126.5" x2="256.5" y2="126.5" stroke="#000" stroke-width="5.3"/>
<text x="273.8" y="134.2" font-size="34.3" font-weight="bold" textLength="70.9" lengthAdjust="spacingAndGlyphs">HNP</text>
<line x1="197.3" y1="169.8" x2="256.5" y2="169.8" stroke="#0000FF" stroke-width="5.3"/>
<text x="274.0" y="175.5" font-size="34.3" font-weight="bold" textLength="126.1" lengthAdjust="spacingAndGlyphs">PT-HNP</text>
<line x1="499" y1="126.5" x2="558" y2="126.5" stroke="#FF8C0C" stroke-width="5.3"/>
<text x="574.8" y="134.2" font-size="34.3" font-weight="bold" textLength="147.2" lengthAdjust="spacingAndGlyphs">PPy-HNP</text>
<line x1="499" y1="169.8" x2="558" y2="169.8" stroke="#07840A" stroke-width="5.3"/>
<text x="574.8" y="175.5" font-size="34.3" font-weight="bold" textLength="165.7" lengthAdjust="spacingAndGlyphs">PANI-HNP</text>
</g>
</svg>
</body></html>
